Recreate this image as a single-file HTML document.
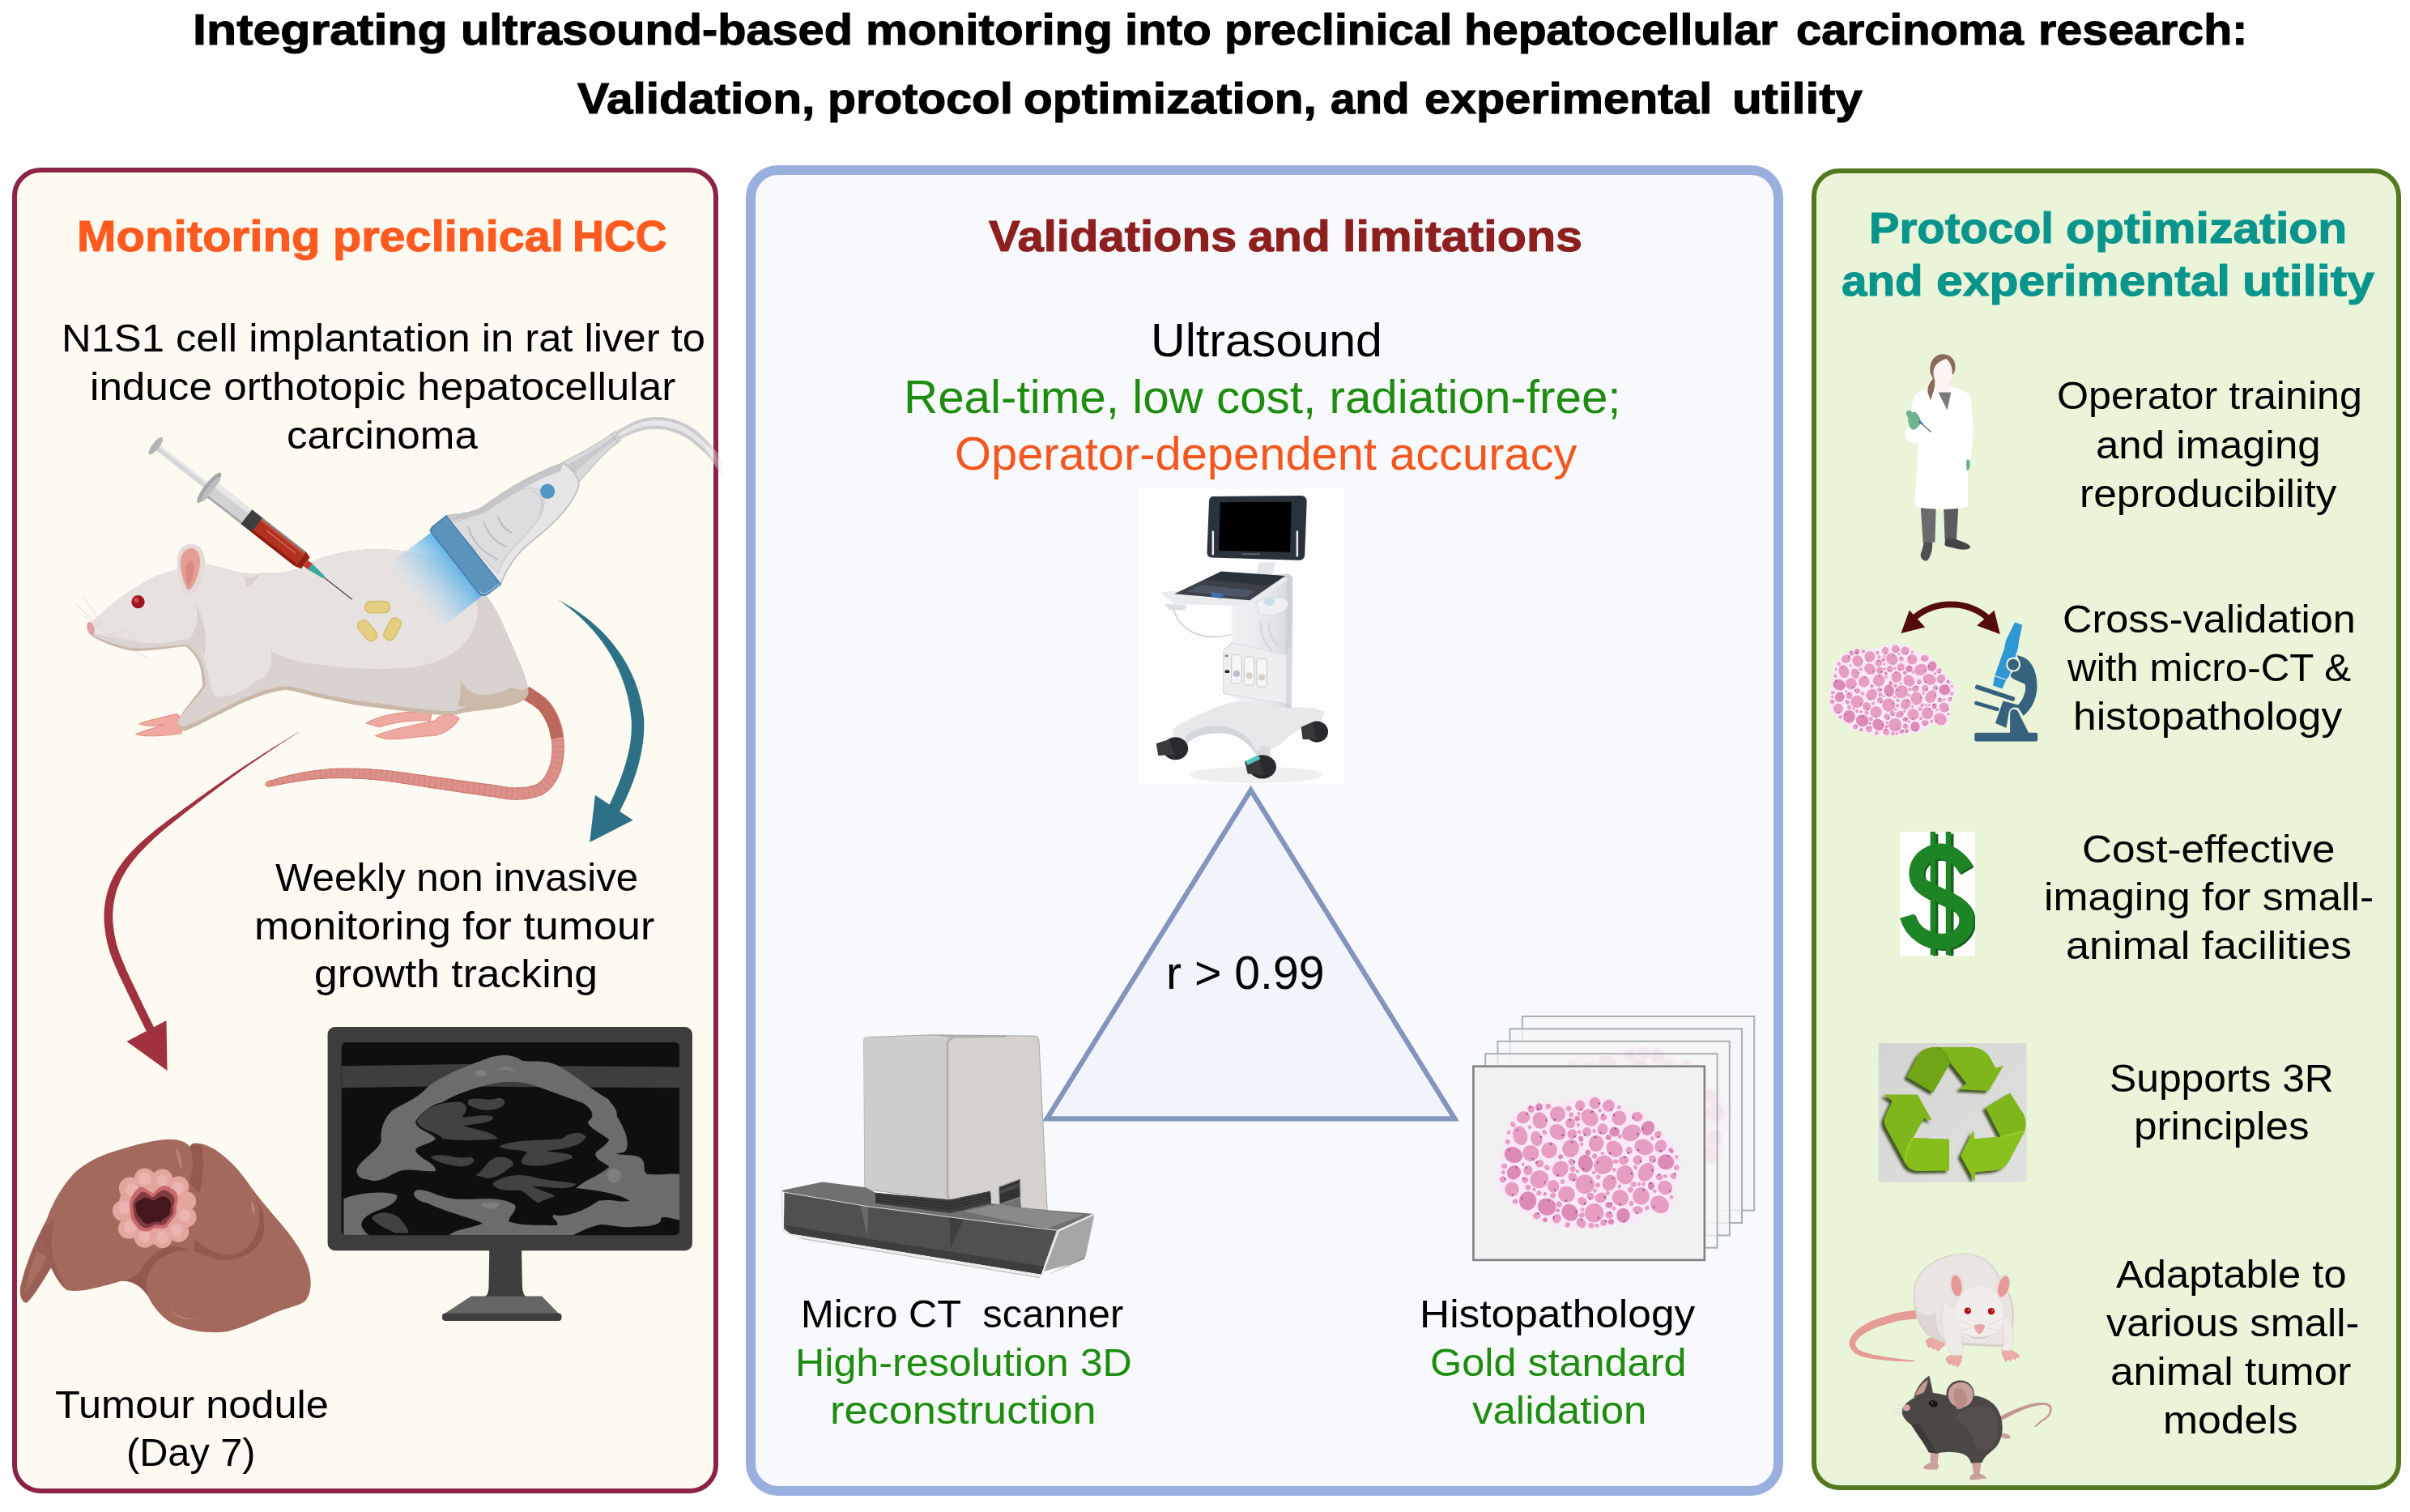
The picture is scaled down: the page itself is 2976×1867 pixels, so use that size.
<!DOCTYPE html>
<html><head><meta charset="utf-8"><title>Graphical abstract</title>
<style>
html,body{margin:0;padding:0;background:#fff}
body{width:2976px;height:1867px;position:relative;overflow:hidden;font-family:"Liberation Sans",sans-serif}
.panel{position:absolute;box-sizing:border-box}
.p1{left:14.5px;top:207px;width:872px;height:1636.5px;border:6px solid #8A2344;border-radius:35px;background:#FDFAF2}
.p2{left:921px;top:204.3px;width:1281.2px;height:1642.7px;border:12.5px solid #99B0DE;border-radius:40px;background:#F8F9FD}
.p3{left:2236.5px;top:207.5px;width:728.5px;height:1632px;border:6px solid #54781E;border-radius:34px;background:#EAF4D9}
.t{position:absolute;white-space:pre;line-height:1;transform-origin:0 0}
.b{font-weight:bold;-webkit-text-stroke:1.1px currentColor}
svg.art{position:absolute;left:0;top:0}
</style></head><body>
<div class="panel p1"></div><div class="panel p2"></div><div class="panel p3"></div>
<svg class="art" width="2976" height="1867" viewBox="0 0 2976 1867">
<!-- 10_triangle.svg -->
<g id="triangle">
<rect x="1405.5" y="603.5" width="254.7" height="365.2" fill="#FDFDFE"/>
<path d="M1544.6 975.6 L1796.4 1381.4 L1292.8 1381.4 Z" fill="#F1F4FA" stroke="#8495BD" stroke-width="6.2" stroke-linejoin="miter"/>
</g>
<!-- 20_usmachine.svg -->
<g id="usmachine" transform="translate(1390 595) scale(0.2513)">
<defs>
<linearGradient id="usg1" x1="0" y1="0" x2="1" y2="0"><stop offset="0" stop-color="#F1F2F4"/><stop offset="0.7" stop-color="#E3E5E8"/><stop offset="1" stop-color="#D2D5D9"/></linearGradient>
<filter id="usblur" x="-5%" y="-5%" width="110%" height="110%"><feGaussianBlur stdDeviation="2.2"/></filter>
</defs>
<g filter="url(#usblur)">
<!-- shadows -->
<ellipse cx="640" cy="1440" rx="330" ry="40" fill="#EFEFF1"/>
<!-- neck to monitor -->
<path d="M655 395 L735 395 L720 470 L640 470 Z" fill="#E4E6E9"/>
<!-- column -->
<path d="M520 600 L560 470 L800 450 L820 470 L815 1110 L770 1120 L520 1060 Z" fill="url(#usg1)"/>
<path d="M790 455 L820 470 L815 1110 L785 1115 Z" fill="#CDD0D5"/>
<!-- cable -->
<path d="M235 625 C260 720 360 790 520 750" fill="none" stroke="#D9DBDE" stroke-width="9"/>
<path d="M665 690 C660 760 690 800 720 830 M705 690 C700 750 730 800 775 815" fill="none" stroke="#D5D8DC" stroke-width="10"/>
<!-- gel holder -->
<path d="M640 590 C700 560 780 565 800 590 C800 640 740 665 660 650 Z" fill="#EEF0F2" stroke="#D8DBDF" stroke-width="4"/>
<ellipse cx="705" cy="590" rx="28" ry="20" fill="#C9DDEA"/>
<!-- tray -->
<path d="M170 545 L240 535 L560 580 L760 470 L800 480 L600 610 L240 600 Z" fill="#E9EBEE"/>
<path d="M190 600 L300 605 L290 630 L215 630 Z" fill="#DDE0E3"/>
<!-- keyboard -->
<path d="M240 550 L470 440 L785 462 L610 582 Z" fill="#3A4049"/>
<path d="M390 480 L470 442 L780 463 L700 510 Z" fill="#2C313A"/>
<path d="M300 540 L370 505 L640 535 L590 568 Z" fill="#4B5563"/>
<rect x="420" y="545" width="60" height="25" rx="6" fill="#3F6EA8" transform="rotate(8 450 557)"/>
<!-- probe panel -->
<path d="M480 830 L520 790 L790 850 L790 1090 L480 1040 Z" fill="#ECEEF0" stroke="#D5D8DC" stroke-width="4"/>
<path d="M790 850 L815 800 L815 1100 L790 1090 Z" fill="#D6D9DD"/>
<g fill="#F6F6F7" stroke="#C5C8CD" stroke-width="4">
<rect x="520" y="850" width="50" height="140" rx="16"/><rect x="582" y="860" width="50" height="140" rx="16"/><rect x="644" y="868" width="50" height="140" rx="16"/>
</g>
<circle cx="545" cy="942" r="16" fill="#B9BDC6"/><circle cx="607" cy="952" r="16" fill="#D8CFC0"/><circle cx="669" cy="960" r="16" fill="#D8CFC0"/>
<rect x="488" y="925" width="22" height="14" rx="4" fill="#222"/><rect x="488" y="850" width="16" height="10" fill="#888"/>
<!-- base -->
<path d="M230 1215 C330 1150 470 1090 560 1075 L800 1110 C880 1105 940 1110 975 1130 L960 1190 C880 1190 820 1230 760 1290 L700 1320 L640 1320 C620 1260 560 1210 470 1200 C390 1195 320 1215 290 1260 L240 1260 Z" fill="#E6E8EA"/>
<path d="M290 1260 C320 1215 390 1195 470 1200 C560 1210 620 1260 640 1320 L700 1320 L700 1340 L640 1340 C610 1290 560 1240 470 1235 C400 1232 340 1250 300 1285 Z" fill="#D3D6DA"/>
<rect x="660" y="1300" width="50" height="60" fill="#DADCE0"/>
<!-- wheels -->
<ellipse cx="245" cy="1310" rx="62" ry="56" fill="#2B2B2D"/><path d="M150 1285 L215 1265 L240 1340 L160 1345 Z" fill="#3A3A3C"/>
<ellipse cx="672" cy="1400" rx="68" ry="58" fill="#2B2B2D"/><path d="M585 1375 L650 1345 L680 1440 L600 1435 Z" fill="#38383A"/><path d="M590 1372 L650 1342 L662 1362 L598 1392 Z" fill="#57C7BF"/>
<ellipse cx="940" cy="1228" rx="55" ry="52" fill="#2B2B2D"/><path d="M862 1205 L920 1180 L935 1265 L870 1265 Z" fill="#38383A"/>
<!-- monitor -->
<path d="M430 72 L862 68 Q892 70 890 100 L880 360 Q878 385 850 385 L425 372 Q398 370 400 345 L410 95 Q412 72 430 72 Z" fill="#2C313B"/>
<path d="M465 100 L815 98 L808 345 L458 338 Z" fill="#020203"/>
<rect x="424" y="240" width="10" height="120" rx="5" fill="#E8E8EA"/><rect x="838" y="240" width="10" height="128" rx="5" fill="#E8E8EA"/>
<rect x="570" y="352" width="90" height="6" fill="#6A6F78"/>
</g>
</g>
<!-- 30_monitor.svg -->
<g id="monitor">
<path d="M604.3 1540 L644 1540 L645 1590 Q646 1600 650 1601 L598 1601 Q603 1600 603.5 1590 Z" fill="#3E3E3E"/>
<path d="M581.8 1600.6 L669.1 1600.6 L690 1622 L549 1622 Z" fill="#666666"/>
<rect x="546" y="1621.5" width="147.5" height="9.5" rx="4" fill="#3E3E3E"/>
<rect x="404.6" y="1268" width="450.3" height="276.2" rx="9" fill="#3D3D3D"/>
<clipPath id="scr"><rect x="421.7" y="1287" width="417.3" height="238.2" rx="6"/></clipPath>
<rect x="421.7" y="1287" width="417.3" height="238.2" rx="6" fill="#0F0F0F"/>
<g clip-path="url(#scr)"><g transform="translate(390 1250) scale(0.26458)">
<path d="M120 250 L700 242 L1100 250 L1700 255 L1700 352 L1200 350 L600 345 L120 352 Z" fill="#3E3E3E"/>
<path d="M190 740 C200 690 290 650 305 600 C300 540 320 490 360 455 C420 420 480 400 520 350 C580 300 700 250 800 215 C870 190 930 200 960 225 C1020 235 1080 215 1150 260 C1230 310 1300 370 1365 405 C1380 430 1410 450 1405 485 C1440 540 1465 600 1450 640 C1440 660 1420 655 1400 660 C1450 670 1510 660 1525 690 C1540 710 1525 740 1545 755 C1600 760 1650 750 1697 755 L1697 970 C1670 965 1630 950 1610 960 C1620 990 1560 1000 1500 1000 C1430 1010 1380 990 1330 990 C1280 1000 1240 1020 1200 1040 L620 1040 C660 1010 720 1010 780 985 C700 950 600 930 520 890 C470 880 440 850 470 830 C520 820 560 860 640 870 C740 880 860 850 930 900 C940 930 900 950 900 975 C960 1000 1060 990 1125 995 C1140 975 1090 960 1110 945 C1180 960 1260 920 1320 880 C1380 870 1430 890 1465 880 C1400 840 1300 830 1215 820 C1260 780 1330 760 1370 720 C1340 700 1290 680 1310 650 C1340 630 1360 610 1370 595 C1330 560 1270 540 1270 510 C1300 490 1300 460 1250 425 C1150 390 1050 350 980 330 C900 315 820 330 740 355 C680 375 620 400 590 420 C540 430 490 470 465 510 C470 550 540 560 560 590 C530 620 470 620 465 645 C490 690 560 700 560 740 C500 750 430 720 380 745 C330 770 290 800 240 780 C210 780 190 760 190 740 Z" fill="#6B6C6E"/>
<path d="M130 870 C200 840 340 830 380 855 C380 890 330 910 290 925 C230 945 200 980 220 1010 C230 1030 250 1040 250 1040 L130 1040 Z" fill="#6B6C6E"/>
<g fill="#424242">
<path d="M470 510 C500 450 580 410 680 420 C720 440 700 470 680 490 C720 490 800 470 830 490 C820 520 720 520 690 530 C760 550 830 560 850 590 C780 600 640 600 590 590 C580 560 500 560 470 510 Z"/>
<path d="M710 410 C760 390 800 420 850 400 C890 400 890 430 860 445 C800 470 740 450 710 430 Z"/>
<path d="M855 625 C930 590 1080 600 1150 590 C1180 560 1240 550 1260 580 C1250 620 1160 640 1075 645 C1120 660 1200 650 1200 680 C1140 700 1040 730 970 710 C940 690 990 660 985 650 C940 640 880 645 855 625 Z"/>
<path d="M535 675 C600 650 650 690 720 675 C760 690 730 715 680 720 C620 715 560 700 535 675 Z"/>
<path d="M745 760 C790 740 790 690 850 675 C900 670 930 700 920 715 C880 740 860 770 800 775 Z"/>
<path d="M825 800 C870 760 950 750 1020 770 C1100 790 1180 790 1215 800 C1200 830 1100 820 1010 810 C1060 840 1120 850 1115 860 C1080 870 1050 880 1040 890 C1000 870 980 840 950 830 C900 835 840 830 825 800 Z"/>
<path d="M260 960 C290 920 370 930 400 970 C420 1000 440 1020 430 1030 L370 1030 C330 1010 280 990 260 960 Z"/>
</g>
<g fill="#7D7E80"><ellipse cx="770" cy="283" rx="28" ry="16"/><path d="M845 268 C880 245 920 255 935 280 C900 265 870 268 845 268 Z"/><ellipse cx="1392" cy="762" rx="32" ry="34"/><path d="M770 895 C800 885 840 885 860 895 C840 925 790 925 770 895 Z"/></g>
</g>
</g>
</g>
<!-- 40_slides.svg -->
<g id="slides">
<g fill="#F6F6F7" fill-opacity="0.75" stroke="#A9AFB3" stroke-width="2">
<rect x="1879.8" y="1255" width="286.4" height="239.6"/>
<rect x="1864.6" y="1270.4" width="286.4" height="239.6"/>
<rect x="1849.4" y="1285.8" width="286.4" height="239.6"/>
<rect x="1834.2" y="1301.1" width="286.4" height="239.6"/>
</g>
<rect x="1819.4" y="1316.7" width="285.4" height="239.2" fill="#F1F1F1" stroke="#7F8386" stroke-width="2.6"/>
</g>
<!-- 41_tissue.svg -->
<clipPath id="backclip"><path d="M2106 1255 H2170 V1500 H2106 Z M1835 1255 H2170 V1315 H1835 Z"/></clipPath><g clip-path="url(#backclip)"><g opacity="0.16" transform="translate(1911.4 1291) scale(0.2249)"><path d="M0 480 C-3 433 14 337 25 280 C36 223 47 175 65 140 C83 105 108 87 135 70 C162 53 192 44 225 40 C258 36 302 48 335 45 C368 42 395 28 425 20 C455 12 482 0 515 0 C548 0 595 8 625 20 C655 32 668 58 695 70 C722 82 755 72 785 90 C815 108 848 152 875 180 C902 208 924 232 945 260 C966 288 992 322 1000 350 C1008 378 996 405 990 430 C984 455 970 472 965 500 C960 528 967 573 960 600 C953 627 948 653 925 660 C902 667 858 633 825 640 C792 647 767 686 725 700 C683 714 625 719 575 725 C525 731 472 738 425 735 C378 732 333 719 295 710 C257 701 227 695 195 680 C163 665 130 640 105 620 C80 600 62 583 45 560 C28 537 3 527 0 480 Z" fill="#F3D9EA"/><circle cx="324" cy="103" r="50" fill="#E69DC2"/><circle cx="536" cy="264" r="50" fill="#E69DC2"/><circle cx="223" cy="461" r="50" fill="#E69DC2"/><circle cx="118" cy="221" r="50" fill="#E69DC2"/><circle cx="525" cy="646" r="50" fill="#E69DC2"/><circle cx="729" cy="206" r="50" fill="#E69DC2"/><circle cx="668" cy="563" r="50" fill="#E69DC2"/><circle cx="695" cy="436" r="50" fill="#E69DC2"/><circle cx="474" cy="488" r="50" fill="#E69DC2"/><circle cx="391" cy="644" r="50" fill="#E69DC2"/><circle cx="81" cy="327" r="50" fill="#E69DC2"/><circle cx="278" cy="301" r="50" fill="#E69DC2"/><circle cx="798" cy="284" r="50" fill="#E69DC2"/><circle cx="265" cy="612" r="50" fill="#E69DC2"/><circle cx="227" cy="138" r="50" fill="#E69DC2"/><circle cx="782" cy="553" r="50" fill="#E69DC2"/><circle cx="396" cy="291" r="50" fill="#E69DC2"/><circle cx="918" cy="366" r="50" fill="#E69DC2"/><circle cx="339" cy="405" r="50" fill="#E69DC2"/><circle cx="500" cy="123" r="50" fill="#E69DC2"/><circle cx="636" cy="294" r="50" fill="#E69DC2"/><circle cx="884" cy="599" r="50" fill="#E69DC2"/><circle cx="160" cy="579" r="50" fill="#E69DC2"/><circle cx="810" cy="421" r="50" fill="#E69DC2"/><circle cx="576" cy="382" r="50" fill="#E69DC2"/><circle cx="373" cy="543" r="50" fill="#E69DC2"/><circle cx="84" cy="424" r="44" fill="#E69DC2"/><circle cx="914" cy="507" r="44" fill="#E69DC2"/><circle cx="176" cy="318" r="44" fill="#E69DC2"/><circle cx="661" cy="125" r="44" fill="#E69DC2"/><circle cx="477" cy="374" r="44" fill="#E69DC2"/><circle cx="73" cy="516" r="44" fill="#E69DC2"/><circle cx="684" cy="659" r="44" fill="#E69DC2"/><circle cx="325" cy="202" r="44" fill="#E69DC2"/><circle cx="609" cy="480" r="44" fill="#E69DC2"/><circle cx="890" cy="279" r="38" fill="#E69DC2"/><circle cx="819" cy="180" r="38" fill="#E69DC2"/><circle cx="136" cy="121" r="38" fill="#E69DC2"/><circle cx="604" cy="57" r="38" fill="#E69DC2"/><circle cx="208" cy="238" r="38" fill="#E69DC2"/><circle cx="571" cy="186" r="32" fill="#E69DC2"/><circle cx="529" cy="43" r="32" fill="#E69DC2"/><circle cx="300" cy="499" r="32" fill="#E69DC2"/><circle cx="561" cy="562" r="32" fill="#E69DC2"/><circle cx="447" cy="56" r="32" fill="#E69DC2"/><circle cx="761" cy="117" r="32" fill="#E69DC2"/></g></g>
<g transform="translate(1850.6 1352.5) scale(0.2249)"><path d="M0 480 C-3 433 14 337 25 280 C36 223 47 175 65 140 C83 105 108 87 135 70 C162 53 192 44 225 40 C258 36 302 48 335 45 C368 42 395 28 425 20 C455 12 482 0 515 0 C548 0 595 8 625 20 C655 32 668 58 695 70 C722 82 755 72 785 90 C815 108 848 152 875 180 C902 208 924 232 945 260 C966 288 992 322 1000 350 C1008 378 996 405 990 430 C984 455 970 472 965 500 C960 528 967 573 960 600 C953 627 948 653 925 660 C902 667 858 633 825 640 C792 647 767 686 725 700 C683 714 625 719 575 725 C525 731 472 738 425 735 C378 732 333 719 295 710 C257 701 227 695 195 680 C163 665 130 640 105 620 C80 600 62 583 45 560 C28 537 3 527 0 480 Z" fill="#FAE7F8"/>
<g fill="#E69DC2"><ellipse cx="324" cy="103" rx="43" ry="42" transform="rotate(147 324 103)"/><ellipse cx="536" cy="264" rx="45" ry="41" transform="rotate(101 536 264)"/><ellipse cx="223" cy="461" rx="51" ry="49" transform="rotate(151 223 461)"/><ellipse cx="118" cy="221" rx="53" ry="40" transform="rotate(74 118 221)"/><ellipse cx="525" cy="646" rx="52" ry="52" transform="rotate(172 525 646)"/><ellipse cx="729" cy="206" rx="53" ry="44" transform="rotate(154 729 206)"/><ellipse cx="668" cy="563" rx="46" ry="44" transform="rotate(31 668 563)"/><ellipse cx="695" cy="436" rx="52" ry="47" transform="rotate(85 695 436)"/><ellipse cx="474" cy="488" rx="53" ry="52" transform="rotate(55 474 488)"/><ellipse cx="278" cy="301" rx="45" ry="43" transform="rotate(118 278 301)"/><ellipse cx="798" cy="284" rx="53" ry="43" transform="rotate(19 798 284)"/><ellipse cx="227" cy="138" rx="46" ry="41" transform="rotate(73 227 138)"/><ellipse cx="782" cy="553" rx="48" ry="46" transform="rotate(70 782 553)"/><ellipse cx="396" cy="291" rx="50" ry="46" transform="rotate(114 396 291)"/><ellipse cx="339" cy="405" rx="47" ry="42" transform="rotate(135 339 405)"/><ellipse cx="500" cy="123" rx="51" ry="43" transform="rotate(45 500 123)"/><ellipse cx="636" cy="294" rx="49" ry="41" transform="rotate(44 636 294)"/><ellipse cx="884" cy="599" rx="53" ry="46" transform="rotate(34 884 599)"/><ellipse cx="810" cy="421" rx="54" ry="41" transform="rotate(122 810 421)"/><ellipse cx="576" cy="382" rx="54" ry="50" transform="rotate(140 576 382)"/><ellipse cx="373" cy="543" rx="45" ry="46" transform="rotate(100 373 543)"/><ellipse cx="914" cy="507" rx="41" ry="38" transform="rotate(38 914 507)"/><ellipse cx="176" cy="318" rx="45" ry="45" transform="rotate(89 176 318)"/><ellipse cx="661" cy="125" rx="40" ry="40" transform="rotate(131 661 125)"/><ellipse cx="73" cy="516" rx="40" ry="39" transform="rotate(72 73 516)"/><ellipse cx="325" cy="202" rx="48" ry="41" transform="rotate(40 325 202)"/><ellipse cx="609" cy="480" rx="45" ry="38" transform="rotate(118 609 480)"/><ellipse cx="890" cy="279" rx="36" ry="32" transform="rotate(122 890 279)"/><ellipse cx="136" cy="121" rx="37" ry="33" transform="rotate(159 136 121)"/><ellipse cx="604" cy="57" rx="33" ry="34" transform="rotate(50 604 57)"/><ellipse cx="208" cy="238" rx="42" ry="31" transform="rotate(72 208 238)"/><ellipse cx="571" cy="186" rx="31" ry="29" transform="rotate(102 571 186)"/><ellipse cx="529" cy="43" rx="32" ry="31" transform="rotate(82 529 43)"/><ellipse cx="300" cy="499" rx="35" ry="32" transform="rotate(81 300 499)"/><ellipse cx="561" cy="562" rx="27" ry="33" transform="rotate(69 561 562)"/><ellipse cx="447" cy="56" rx="29" ry="27" transform="rotate(102 447 56)"/><ellipse cx="761" cy="117" rx="31" ry="26" transform="rotate(1 761 117)"/><ellipse cx="161" cy="412" rx="24" ry="27" transform="rotate(17 161 412)"/><ellipse cx="319" cy="677" rx="24" ry="26" transform="rotate(23 319 677)"/><ellipse cx="394" cy="153" rx="28" ry="27" transform="rotate(110 394 153)"/><ellipse cx="453" cy="701" rx="29" ry="24" transform="rotate(48 453 701)"/><ellipse cx="225" cy="375" rx="23" ry="21" transform="rotate(163 225 375)"/><ellipse cx="404" cy="212" rx="27" ry="26" transform="rotate(136 404 212)"/><ellipse cx="406" cy="449" rx="25" ry="23" transform="rotate(48 406 449)"/><ellipse cx="687" cy="357" rx="28" ry="24" transform="rotate(167 687 357)"/><ellipse cx="460" cy="582" rx="27" ry="22" transform="rotate(37 460 582)"/><ellipse cx="484" cy="201" rx="25" ry="25" transform="rotate(50 484 201)"/><ellipse cx="764" cy="629" rx="28" ry="21" transform="rotate(4 764 629)"/><ellipse cx="763" cy="355" rx="26" ry="25" transform="rotate(106 763 355)"/><ellipse cx="577" cy="699" rx="18" ry="19" transform="rotate(44 577 699)"/><ellipse cx="401" cy="366" rx="19" ry="17" transform="rotate(47 401 366)"/><ellipse cx="607" cy="657" rx="22" ry="19" transform="rotate(25 607 657)"/><ellipse cx="178" cy="76" rx="19" ry="20" transform="rotate(140 178 76)"/><ellipse cx="146" cy="466" rx="17" ry="16" transform="rotate(135 146 466)"/><ellipse cx="960" cy="443" rx="17" ry="16" transform="rotate(39 960 443)"/><ellipse cx="505" cy="554" rx="21" ry="19" transform="rotate(23 505 554)"/><ellipse cx="576" cy="121" rx="17" ry="18" transform="rotate(46 576 121)"/><ellipse cx="875" cy="215" rx="18" ry="21" transform="rotate(47 875 215)"/><ellipse cx="23" cy="462" rx="17" ry="18" transform="rotate(137 23 462)"/><ellipse cx="845" cy="350" rx="20" ry="21" transform="rotate(10 845 350)"/><ellipse cx="717" cy="302" rx="18" ry="20" transform="rotate(169 717 302)"/><ellipse cx="209" cy="661" rx="21" ry="18" transform="rotate(171 209 661)"/><ellipse cx="882" cy="449" rx="20" ry="17" transform="rotate(13 882 449)"/><ellipse cx="272" cy="61" rx="15" ry="15" transform="rotate(160 272 61)"/><ellipse cx="91" cy="583" rx="13" ry="15" transform="rotate(74 91 583)"/><ellipse cx="31" cy="389" rx="16" ry="14" transform="rotate(174 31 389)"/><ellipse cx="378" cy="711" rx="15" ry="14" transform="rotate(106 378 711)"/><ellipse cx="385" cy="73" rx="15" ry="15" transform="rotate(140 385 73)"/><ellipse cx="508" cy="714" rx="15" ry="15" transform="rotate(2 508 714)"/><ellipse cx="351" cy="474" rx="13" ry="12" transform="rotate(114 351 474)"/><ellipse cx="815" cy="618" rx="13" ry="12" transform="rotate(83 815 618)"/><ellipse cx="729" cy="594" rx="13" ry="14" transform="rotate(22 729 594)"/><ellipse cx="50" cy="256" rx="14" ry="13" transform="rotate(46 50 256)"/><ellipse cx="741" cy="489" rx="16" ry="14" transform="rotate(167 741 489)"/><ellipse cx="252" cy="203" rx="14" ry="12" transform="rotate(48 252 203)"/><ellipse cx="221" cy="537" rx="13" ry="14" transform="rotate(37 221 537)"/><ellipse cx="161" cy="505" rx="16" ry="15" transform="rotate(33 161 505)"/><ellipse cx="977" cy="397" rx="15" ry="14" transform="rotate(87 977 397)"/><ellipse cx="544" cy="493" rx="14" ry="13" transform="rotate(141 544 493)"/><ellipse cx="457" cy="658" rx="16" ry="14" transform="rotate(154 457 658)"/><ellipse cx="399" cy="106" rx="14" ry="13" transform="rotate(123 399 106)"/><ellipse cx="547" cy="449" rx="13" ry="13" transform="rotate(17 547 449)"/><ellipse cx="78" cy="160" rx="16" ry="13" transform="rotate(59 78 160)"/><ellipse cx="332" cy="598" rx="16" ry="16" transform="rotate(151 332 598)"/><ellipse cx="298" cy="550" rx="16" ry="15" transform="rotate(135 298 550)"/><ellipse cx="407" cy="405" rx="16" ry="16" transform="rotate(156 407 405)"/><ellipse cx="643" cy="363" rx="15" ry="12" transform="rotate(178 643 363)"/><ellipse cx="527" cy="334" rx="14" ry="15" transform="rotate(47 527 334)"/><ellipse cx="266" cy="397" rx="16" ry="13" transform="rotate(33 266 397)"/><ellipse cx="724" cy="518" rx="16" ry="15" transform="rotate(131 724 518)"/><ellipse cx="26" cy="423" rx="11" ry="11" transform="rotate(134 26 423)"/><ellipse cx="171" cy="175" rx="10" ry="10" transform="rotate(62 171 175)"/><ellipse cx="437" cy="163" rx="11" ry="9" transform="rotate(100 437 163)"/><ellipse cx="529" cy="524" rx="11" ry="11" transform="rotate(92 529 524)"/><ellipse cx="56" cy="204" rx="11" ry="10" transform="rotate(113 56 204)"/><ellipse cx="663" cy="500" rx="12" ry="9" transform="rotate(113 663 500)"/><ellipse cx="915" cy="444" rx="12" ry="9" transform="rotate(170 915 444)"/><ellipse cx="433" cy="417" rx="10" ry="9" transform="rotate(9 433 417)"/><ellipse cx="455" cy="268" rx="10" ry="10" transform="rotate(137 455 268)"/><ellipse cx="134" cy="379" rx="9" ry="10" transform="rotate(24 134 379)"/><ellipse cx="599" cy="537" rx="12" ry="10" transform="rotate(104 599 537)"/><ellipse cx="195" cy="517" rx="10" ry="10" transform="rotate(24 195 517)"/><ellipse cx="977" cy="338" rx="10" ry="10" transform="rotate(3 977 338)"/><ellipse cx="948" cy="559" rx="10" ry="11" transform="rotate(79 948 559)"/><ellipse cx="523" cy="424" rx="12" ry="9" transform="rotate(166 523 424)"/><ellipse cx="570" cy="318" rx="9" ry="10" transform="rotate(105 570 318)"/><ellipse cx="796" cy="487" rx="11" ry="10" transform="rotate(95 796 487)"/><ellipse cx="634" cy="621" rx="11" ry="11" transform="rotate(8 634 621)"/><ellipse cx="751" cy="396" rx="12" ry="10" transform="rotate(53 751 396)"/><ellipse cx="556" cy="83" rx="10" ry="10" transform="rotate(91 556 83)"/><ellipse cx="661" cy="66" rx="11" ry="10" transform="rotate(150 661 66)"/><ellipse cx="771" cy="488" rx="10" ry="10" transform="rotate(62 771 488)"/><ellipse cx="666" cy="227" rx="10" ry="12" transform="rotate(90 666 227)"/><ellipse cx="442" cy="201" rx="10" ry="11" transform="rotate(160 442 201)"/><ellipse cx="539" cy="715" rx="11" ry="11" transform="rotate(16 539 715)"/><ellipse cx="844" cy="237" rx="11" ry="11" transform="rotate(91 844 237)"/><ellipse cx="440" cy="101" rx="11" ry="9" transform="rotate(66 440 101)"/><ellipse cx="634" cy="409" rx="12" ry="10" transform="rotate(20 634 409)"/><ellipse cx="524" cy="196" rx="11" ry="10" transform="rotate(27 524 196)"/><ellipse cx="460" cy="627" rx="11" ry="11" transform="rotate(149 460 627)"/><ellipse cx="857" cy="526" rx="9" ry="10" transform="rotate(119 857 526)"/></g>
<g fill="#DB8BB6"><ellipse cx="391" cy="644" rx="43" ry="49" transform="rotate(140 391 644)"/><ellipse cx="81" cy="327" rx="43" ry="51" transform="rotate(113 81 327)"/><ellipse cx="265" cy="612" rx="51" ry="47" transform="rotate(21 265 612)"/><ellipse cx="918" cy="366" rx="45" ry="42" transform="rotate(8 918 366)"/><ellipse cx="160" cy="579" rx="51" ry="47" transform="rotate(95 160 579)"/><ellipse cx="84" cy="424" rx="40" ry="37" transform="rotate(127 84 424)"/><ellipse cx="477" cy="374" rx="48" ry="40" transform="rotate(78 477 374)"/><ellipse cx="684" cy="659" rx="40" ry="37" transform="rotate(89 684 659)"/><ellipse cx="819" cy="180" rx="41" ry="35" transform="rotate(114 819 180)"/><ellipse cx="636" cy="200" rx="28" ry="27" transform="rotate(2 636 200)"/><ellipse cx="837" cy="497" rx="22" ry="18" transform="rotate(86 837 497)"/><ellipse cx="606" cy="602" rx="17" ry="20" transform="rotate(108 606 602)"/><ellipse cx="222" cy="64" rx="20" ry="21" transform="rotate(18 222 64)"/><ellipse cx="255" cy="684" rx="13" ry="12" transform="rotate(134 255 684)"/><ellipse cx="340" cy="337" rx="13" ry="13" transform="rotate(121 340 337)"/><ellipse cx="490" cy="314" rx="16" ry="15" transform="rotate(119 490 314)"/><ellipse cx="947" cy="303" rx="16" ry="12" transform="rotate(52 947 303)"/><ellipse cx="431" cy="128" rx="15" ry="14" transform="rotate(166 431 128)"/><ellipse cx="452" cy="238" rx="16" ry="13" transform="rotate(77 452 238)"/><ellipse cx="617" cy="694" rx="16" ry="15" transform="rotate(162 617 694)"/><ellipse cx="603" cy="231" rx="16" ry="14" transform="rotate(21 603 231)"/><ellipse cx="254" cy="542" rx="11" ry="9" transform="rotate(123 254 542)"/><ellipse cx="325" cy="632" rx="10" ry="10" transform="rotate(89 325 632)"/></g>
<g fill="#8A52A0"><ellipse cx="308" cy="134" rx="7" ry="4" transform="rotate(134 308 134)"/><ellipse cx="531" cy="230" rx="7" ry="4" transform="rotate(13 531 230)"/><ellipse cx="253" cy="479" rx="7" ry="4" transform="rotate(96 253 479)"/><ellipse cx="103" cy="190" rx="7" ry="4" transform="rotate(161 103 190)"/><ellipse cx="548" cy="673" rx="7" ry="4" transform="rotate(113 548 673)"/><ellipse cx="764" cy="213" rx="7" ry="4" transform="rotate(64 764 213)"/><ellipse cx="666" cy="598" rx="7" ry="4" transform="rotate(73 666 598)"/><ellipse cx="730" cy="429" rx="7" ry="4" transform="rotate(70 730 429)"/><ellipse cx="507" cy="477" rx="7" ry="4" transform="rotate(121 507 477)"/><ellipse cx="426" cy="640" rx="7" ry="4" transform="rotate(106 426 640)"/><ellipse cx="57" cy="301" rx="7" ry="4" transform="rotate(70 57 301)"/><ellipse cx="287" cy="267" rx="7" ry="4" transform="rotate(68 287 267)"/><ellipse cx="767" cy="300" rx="7" ry="4" transform="rotate(19 767 300)"/><ellipse cx="275" cy="578" rx="7" ry="4" transform="rotate(106 275 578)"/><ellipse cx="262" cy="137" rx="7" ry="4" transform="rotate(70 262 137)"/><ellipse cx="796" cy="520" rx="7" ry="4" transform="rotate(41 796 520)"/><ellipse cx="402" cy="257" rx="7" ry="4" transform="rotate(32 402 257)"/><ellipse cx="932" cy="334" rx="7" ry="4" transform="rotate(141 932 334)"/><ellipse cx="325" cy="437" rx="7" ry="4" transform="rotate(55 325 437)"/><ellipse cx="513" cy="91" rx="7" ry="4" transform="rotate(161 513 91)"/><ellipse cx="612" cy="319" rx="7" ry="4" transform="rotate(172 612 319)"/><ellipse cx="852" cy="612" rx="7" ry="4" transform="rotate(106 852 612)"/><ellipse cx="128" cy="566" rx="7" ry="4" transform="rotate(40 128 566)"/><ellipse cx="844" cy="412" rx="7" ry="4" transform="rotate(97 844 412)"/><ellipse cx="544" cy="368" rx="7" ry="4" transform="rotate(92 544 368)"/><ellipse cx="370" cy="578" rx="7" ry="4" transform="rotate(158 370 578)"/><ellipse cx="97" cy="396" rx="7" ry="4" transform="rotate(58 97 396)"/><ellipse cx="940" cy="524" rx="7" ry="4" transform="rotate(132 940 524)"/><ellipse cx="186" cy="348" rx="7" ry="4" transform="rotate(27 186 348)"/><ellipse cx="635" cy="110" rx="7" ry="4" transform="rotate(65 635 110)"/><ellipse cx="466" cy="403" rx="7" ry="4" transform="rotate(66 466 403)"/><ellipse cx="77" cy="547" rx="7" ry="4" transform="rotate(135 77 547)"/><ellipse cx="690" cy="690" rx="7" ry="4" transform="rotate(117 690 690)"/><ellipse cx="352" cy="218" rx="7" ry="4" transform="rotate(145 352 218)"/><ellipse cx="627" cy="455" rx="7" ry="4" transform="rotate(175 627 455)"/><ellipse cx="890" cy="306" rx="7" ry="4" transform="rotate(20 890 306)"/><ellipse cx="792" cy="181" rx="7" ry="4" transform="rotate(70 792 181)"/><ellipse cx="156" cy="103" rx="7" ry="4" transform="rotate(120 156 103)"/><ellipse cx="617" cy="80" rx="7" ry="4" transform="rotate(95 617 80)"/><ellipse cx="233" cy="229" rx="7" ry="4" transform="rotate(22 233 229)"/><ellipse cx="559" cy="205" rx="7" ry="4" transform="rotate(172 559 205)"/><ellipse cx="552" cy="45" rx="7" ry="4" transform="rotate(8 552 45)"/><ellipse cx="308" cy="519" rx="7" ry="4" transform="rotate(84 308 519)"/><ellipse cx="583" cy="560" rx="7" ry="4" transform="rotate(62 583 560)"/><ellipse cx="452" cy="78" rx="7" ry="4" transform="rotate(124 452 78)"/><ellipse cx="739" cy="123" rx="7" ry="4" transform="rotate(3 739 123)"/><ellipse cx="152" cy="396" rx="7" ry="4" transform="rotate(41 152 396)"/><ellipse cx="303" cy="669" rx="7" ry="4" transform="rotate(78 303 669)"/><ellipse cx="392" cy="135" rx="7" ry="4" transform="rotate(24 392 135)"/><ellipse cx="454" cy="683" rx="7" ry="4" transform="rotate(95 454 683)"/><ellipse cx="208" cy="368" rx="7" ry="4" transform="rotate(168 208 368)"/><ellipse cx="417" cy="225" rx="7" ry="4" transform="rotate(41 417 225)"/><ellipse cx="642" cy="183" rx="7" ry="4" transform="rotate(63 642 183)"/><ellipse cx="414" cy="465" rx="7" ry="4" transform="rotate(75 414 465)"/><ellipse cx="693" cy="340" rx="7" ry="4" transform="rotate(10 693 340)"/><ellipse cx="473" cy="594" rx="7" ry="4" transform="rotate(141 473 594)"/><ellipse cx="473" cy="216" rx="7" ry="4" transform="rotate(97 473 216)"/><ellipse cx="759" cy="647" rx="7" ry="4" transform="rotate(24 759 647)"/><ellipse cx="780" cy="363" rx="7" ry="4" transform="rotate(34 780 363)"/><ellipse cx="588" cy="691" rx="7" ry="4" transform="rotate(4 588 691)"/><ellipse cx="415" cy="364" rx="7" ry="4" transform="rotate(71 415 364)"/><ellipse cx="611" cy="644" rx="7" ry="4" transform="rotate(88 611 644)"/><ellipse cx="173" cy="63" rx="7" ry="4" transform="rotate(109 173 63)"/><ellipse cx="136" cy="457" rx="7" ry="4" transform="rotate(1 136 457)"/><ellipse cx="834" cy="483" rx="7" ry="4" transform="rotate(157 834 483)"/><ellipse cx="968" cy="431" rx="7" ry="4" transform="rotate(120 968 431)"/><ellipse cx="501" cy="567" rx="7" ry="4" transform="rotate(62 501 567)"/><ellipse cx="617" cy="593" rx="7" ry="4" transform="rotate(5 617 593)"/><ellipse cx="571" cy="108" rx="7" ry="4" transform="rotate(122 571 108)"/><ellipse cx="877" cy="229" rx="7" ry="4" transform="rotate(16 877 229)"/><ellipse cx="36" cy="458" rx="7" ry="4" transform="rotate(42 36 458)"/><ellipse cx="856" cy="359" rx="7" ry="4" transform="rotate(116 856 359)"/><ellipse cx="712" cy="316" rx="7" ry="4" transform="rotate(173 712 316)"/><ellipse cx="215" cy="76" rx="7" ry="4" transform="rotate(75 215 76)"/><ellipse cx="215" cy="648" rx="7" ry="4" transform="rotate(21 215 648)"/><ellipse cx="881" cy="435" rx="7" ry="4" transform="rotate(156 881 435)"/></g></g>
<g transform="translate(2258.6 794.8) scale(0.1554)"><path d="M0 480 C-3 433 14 337 25 280 C36 223 47 175 65 140 C83 105 108 87 135 70 C162 53 192 44 225 40 C258 36 302 48 335 45 C368 42 395 28 425 20 C455 12 482 0 515 0 C548 0 595 8 625 20 C655 32 668 58 695 70 C722 82 755 72 785 90 C815 108 848 152 875 180 C902 208 924 232 945 260 C966 288 992 322 1000 350 C1008 378 996 405 990 430 C984 455 970 472 965 500 C960 528 967 573 960 600 C953 627 948 653 925 660 C902 667 858 633 825 640 C792 647 767 686 725 700 C683 714 625 719 575 725 C525 731 472 738 425 735 C378 732 333 719 295 710 C257 701 227 695 195 680 C163 665 130 640 105 620 C80 600 62 583 45 560 C28 537 3 527 0 480 Z" fill="#FAE7F8"/>
<g fill="#E69DC2"><ellipse cx="324" cy="103" rx="43" ry="42" transform="rotate(147 324 103)"/><ellipse cx="536" cy="264" rx="45" ry="41" transform="rotate(101 536 264)"/><ellipse cx="223" cy="461" rx="51" ry="49" transform="rotate(151 223 461)"/><ellipse cx="118" cy="221" rx="53" ry="40" transform="rotate(74 118 221)"/><ellipse cx="525" cy="646" rx="52" ry="52" transform="rotate(172 525 646)"/><ellipse cx="729" cy="206" rx="53" ry="44" transform="rotate(154 729 206)"/><ellipse cx="668" cy="563" rx="46" ry="44" transform="rotate(31 668 563)"/><ellipse cx="695" cy="436" rx="52" ry="47" transform="rotate(85 695 436)"/><ellipse cx="474" cy="488" rx="53" ry="52" transform="rotate(55 474 488)"/><ellipse cx="278" cy="301" rx="45" ry="43" transform="rotate(118 278 301)"/><ellipse cx="798" cy="284" rx="53" ry="43" transform="rotate(19 798 284)"/><ellipse cx="227" cy="138" rx="46" ry="41" transform="rotate(73 227 138)"/><ellipse cx="782" cy="553" rx="48" ry="46" transform="rotate(70 782 553)"/><ellipse cx="396" cy="291" rx="50" ry="46" transform="rotate(114 396 291)"/><ellipse cx="339" cy="405" rx="47" ry="42" transform="rotate(135 339 405)"/><ellipse cx="500" cy="123" rx="51" ry="43" transform="rotate(45 500 123)"/><ellipse cx="636" cy="294" rx="49" ry="41" transform="rotate(44 636 294)"/><ellipse cx="884" cy="599" rx="53" ry="46" transform="rotate(34 884 599)"/><ellipse cx="810" cy="421" rx="54" ry="41" transform="rotate(122 810 421)"/><ellipse cx="576" cy="382" rx="54" ry="50" transform="rotate(140 576 382)"/><ellipse cx="373" cy="543" rx="45" ry="46" transform="rotate(100 373 543)"/><ellipse cx="914" cy="507" rx="41" ry="38" transform="rotate(38 914 507)"/><ellipse cx="176" cy="318" rx="45" ry="45" transform="rotate(89 176 318)"/><ellipse cx="661" cy="125" rx="40" ry="40" transform="rotate(131 661 125)"/><ellipse cx="73" cy="516" rx="40" ry="39" transform="rotate(72 73 516)"/><ellipse cx="325" cy="202" rx="48" ry="41" transform="rotate(40 325 202)"/><ellipse cx="609" cy="480" rx="45" ry="38" transform="rotate(118 609 480)"/><ellipse cx="890" cy="279" rx="36" ry="32" transform="rotate(122 890 279)"/><ellipse cx="136" cy="121" rx="37" ry="33" transform="rotate(159 136 121)"/><ellipse cx="604" cy="57" rx="33" ry="34" transform="rotate(50 604 57)"/><ellipse cx="208" cy="238" rx="42" ry="31" transform="rotate(72 208 238)"/><ellipse cx="571" cy="186" rx="31" ry="29" transform="rotate(102 571 186)"/><ellipse cx="529" cy="43" rx="32" ry="31" transform="rotate(82 529 43)"/><ellipse cx="300" cy="499" rx="35" ry="32" transform="rotate(81 300 499)"/><ellipse cx="561" cy="562" rx="27" ry="33" transform="rotate(69 561 562)"/><ellipse cx="447" cy="56" rx="29" ry="27" transform="rotate(102 447 56)"/><ellipse cx="761" cy="117" rx="31" ry="26" transform="rotate(1 761 117)"/><ellipse cx="161" cy="412" rx="24" ry="27" transform="rotate(17 161 412)"/><ellipse cx="319" cy="677" rx="24" ry="26" transform="rotate(23 319 677)"/><ellipse cx="394" cy="153" rx="28" ry="27" transform="rotate(110 394 153)"/><ellipse cx="453" cy="701" rx="29" ry="24" transform="rotate(48 453 701)"/><ellipse cx="225" cy="375" rx="23" ry="21" transform="rotate(163 225 375)"/><ellipse cx="404" cy="212" rx="27" ry="26" transform="rotate(136 404 212)"/><ellipse cx="406" cy="449" rx="25" ry="23" transform="rotate(48 406 449)"/><ellipse cx="687" cy="357" rx="28" ry="24" transform="rotate(167 687 357)"/><ellipse cx="460" cy="582" rx="27" ry="22" transform="rotate(37 460 582)"/><ellipse cx="484" cy="201" rx="25" ry="25" transform="rotate(50 484 201)"/><ellipse cx="764" cy="629" rx="28" ry="21" transform="rotate(4 764 629)"/><ellipse cx="763" cy="355" rx="26" ry="25" transform="rotate(106 763 355)"/><ellipse cx="577" cy="699" rx="18" ry="19" transform="rotate(44 577 699)"/><ellipse cx="401" cy="366" rx="19" ry="17" transform="rotate(47 401 366)"/><ellipse cx="607" cy="657" rx="22" ry="19" transform="rotate(25 607 657)"/><ellipse cx="178" cy="76" rx="19" ry="20" transform="rotate(140 178 76)"/><ellipse cx="146" cy="466" rx="17" ry="16" transform="rotate(135 146 466)"/><ellipse cx="960" cy="443" rx="17" ry="16" transform="rotate(39 960 443)"/><ellipse cx="505" cy="554" rx="21" ry="19" transform="rotate(23 505 554)"/><ellipse cx="576" cy="121" rx="17" ry="18" transform="rotate(46 576 121)"/><ellipse cx="875" cy="215" rx="18" ry="21" transform="rotate(47 875 215)"/><ellipse cx="23" cy="462" rx="17" ry="18" transform="rotate(137 23 462)"/><ellipse cx="845" cy="350" rx="20" ry="21" transform="rotate(10 845 350)"/><ellipse cx="717" cy="302" rx="18" ry="20" transform="rotate(169 717 302)"/><ellipse cx="209" cy="661" rx="21" ry="18" transform="rotate(171 209 661)"/><ellipse cx="882" cy="449" rx="20" ry="17" transform="rotate(13 882 449)"/><ellipse cx="272" cy="61" rx="15" ry="15" transform="rotate(160 272 61)"/><ellipse cx="91" cy="583" rx="13" ry="15" transform="rotate(74 91 583)"/><ellipse cx="31" cy="389" rx="16" ry="14" transform="rotate(174 31 389)"/><ellipse cx="378" cy="711" rx="15" ry="14" transform="rotate(106 378 711)"/><ellipse cx="385" cy="73" rx="15" ry="15" transform="rotate(140 385 73)"/><ellipse cx="508" cy="714" rx="15" ry="15" transform="rotate(2 508 714)"/><ellipse cx="351" cy="474" rx="13" ry="12" transform="rotate(114 351 474)"/><ellipse cx="815" cy="618" rx="13" ry="12" transform="rotate(83 815 618)"/><ellipse cx="729" cy="594" rx="13" ry="14" transform="rotate(22 729 594)"/><ellipse cx="50" cy="256" rx="14" ry="13" transform="rotate(46 50 256)"/><ellipse cx="741" cy="489" rx="16" ry="14" transform="rotate(167 741 489)"/><ellipse cx="252" cy="203" rx="14" ry="12" transform="rotate(48 252 203)"/><ellipse cx="221" cy="537" rx="13" ry="14" transform="rotate(37 221 537)"/><ellipse cx="161" cy="505" rx="16" ry="15" transform="rotate(33 161 505)"/><ellipse cx="977" cy="397" rx="15" ry="14" transform="rotate(87 977 397)"/><ellipse cx="544" cy="493" rx="14" ry="13" transform="rotate(141 544 493)"/><ellipse cx="457" cy="658" rx="16" ry="14" transform="rotate(154 457 658)"/><ellipse cx="399" cy="106" rx="14" ry="13" transform="rotate(123 399 106)"/><ellipse cx="547" cy="449" rx="13" ry="13" transform="rotate(17 547 449)"/><ellipse cx="78" cy="160" rx="16" ry="13" transform="rotate(59 78 160)"/><ellipse cx="332" cy="598" rx="16" ry="16" transform="rotate(151 332 598)"/><ellipse cx="298" cy="550" rx="16" ry="15" transform="rotate(135 298 550)"/><ellipse cx="407" cy="405" rx="16" ry="16" transform="rotate(156 407 405)"/><ellipse cx="643" cy="363" rx="15" ry="12" transform="rotate(178 643 363)"/><ellipse cx="527" cy="334" rx="14" ry="15" transform="rotate(47 527 334)"/><ellipse cx="266" cy="397" rx="16" ry="13" transform="rotate(33 266 397)"/><ellipse cx="724" cy="518" rx="16" ry="15" transform="rotate(131 724 518)"/><ellipse cx="26" cy="423" rx="11" ry="11" transform="rotate(134 26 423)"/><ellipse cx="171" cy="175" rx="10" ry="10" transform="rotate(62 171 175)"/><ellipse cx="437" cy="163" rx="11" ry="9" transform="rotate(100 437 163)"/><ellipse cx="529" cy="524" rx="11" ry="11" transform="rotate(92 529 524)"/><ellipse cx="56" cy="204" rx="11" ry="10" transform="rotate(113 56 204)"/><ellipse cx="663" cy="500" rx="12" ry="9" transform="rotate(113 663 500)"/><ellipse cx="915" cy="444" rx="12" ry="9" transform="rotate(170 915 444)"/><ellipse cx="433" cy="417" rx="10" ry="9" transform="rotate(9 433 417)"/><ellipse cx="455" cy="268" rx="10" ry="10" transform="rotate(137 455 268)"/><ellipse cx="134" cy="379" rx="9" ry="10" transform="rotate(24 134 379)"/><ellipse cx="599" cy="537" rx="12" ry="10" transform="rotate(104 599 537)"/><ellipse cx="195" cy="517" rx="10" ry="10" transform="rotate(24 195 517)"/><ellipse cx="977" cy="338" rx="10" ry="10" transform="rotate(3 977 338)"/><ellipse cx="948" cy="559" rx="10" ry="11" transform="rotate(79 948 559)"/><ellipse cx="523" cy="424" rx="12" ry="9" transform="rotate(166 523 424)"/><ellipse cx="570" cy="318" rx="9" ry="10" transform="rotate(105 570 318)"/><ellipse cx="796" cy="487" rx="11" ry="10" transform="rotate(95 796 487)"/><ellipse cx="634" cy="621" rx="11" ry="11" transform="rotate(8 634 621)"/><ellipse cx="751" cy="396" rx="12" ry="10" transform="rotate(53 751 396)"/><ellipse cx="556" cy="83" rx="10" ry="10" transform="rotate(91 556 83)"/><ellipse cx="661" cy="66" rx="11" ry="10" transform="rotate(150 661 66)"/><ellipse cx="771" cy="488" rx="10" ry="10" transform="rotate(62 771 488)"/><ellipse cx="666" cy="227" rx="10" ry="12" transform="rotate(90 666 227)"/><ellipse cx="442" cy="201" rx="10" ry="11" transform="rotate(160 442 201)"/><ellipse cx="539" cy="715" rx="11" ry="11" transform="rotate(16 539 715)"/><ellipse cx="844" cy="237" rx="11" ry="11" transform="rotate(91 844 237)"/><ellipse cx="440" cy="101" rx="11" ry="9" transform="rotate(66 440 101)"/><ellipse cx="634" cy="409" rx="12" ry="10" transform="rotate(20 634 409)"/><ellipse cx="524" cy="196" rx="11" ry="10" transform="rotate(27 524 196)"/><ellipse cx="460" cy="627" rx="11" ry="11" transform="rotate(149 460 627)"/><ellipse cx="857" cy="526" rx="9" ry="10" transform="rotate(119 857 526)"/></g>
<g fill="#DB8BB6"><ellipse cx="391" cy="644" rx="43" ry="49" transform="rotate(140 391 644)"/><ellipse cx="81" cy="327" rx="43" ry="51" transform="rotate(113 81 327)"/><ellipse cx="265" cy="612" rx="51" ry="47" transform="rotate(21 265 612)"/><ellipse cx="918" cy="366" rx="45" ry="42" transform="rotate(8 918 366)"/><ellipse cx="160" cy="579" rx="51" ry="47" transform="rotate(95 160 579)"/><ellipse cx="84" cy="424" rx="40" ry="37" transform="rotate(127 84 424)"/><ellipse cx="477" cy="374" rx="48" ry="40" transform="rotate(78 477 374)"/><ellipse cx="684" cy="659" rx="40" ry="37" transform="rotate(89 684 659)"/><ellipse cx="819" cy="180" rx="41" ry="35" transform="rotate(114 819 180)"/><ellipse cx="636" cy="200" rx="28" ry="27" transform="rotate(2 636 200)"/><ellipse cx="837" cy="497" rx="22" ry="18" transform="rotate(86 837 497)"/><ellipse cx="606" cy="602" rx="17" ry="20" transform="rotate(108 606 602)"/><ellipse cx="222" cy="64" rx="20" ry="21" transform="rotate(18 222 64)"/><ellipse cx="255" cy="684" rx="13" ry="12" transform="rotate(134 255 684)"/><ellipse cx="340" cy="337" rx="13" ry="13" transform="rotate(121 340 337)"/><ellipse cx="490" cy="314" rx="16" ry="15" transform="rotate(119 490 314)"/><ellipse cx="947" cy="303" rx="16" ry="12" transform="rotate(52 947 303)"/><ellipse cx="431" cy="128" rx="15" ry="14" transform="rotate(166 431 128)"/><ellipse cx="452" cy="238" rx="16" ry="13" transform="rotate(77 452 238)"/><ellipse cx="617" cy="694" rx="16" ry="15" transform="rotate(162 617 694)"/><ellipse cx="603" cy="231" rx="16" ry="14" transform="rotate(21 603 231)"/><ellipse cx="254" cy="542" rx="11" ry="9" transform="rotate(123 254 542)"/><ellipse cx="325" cy="632" rx="10" ry="10" transform="rotate(89 325 632)"/></g>
<g fill="#8A52A0"><ellipse cx="308" cy="134" rx="7" ry="4" transform="rotate(134 308 134)"/><ellipse cx="531" cy="230" rx="7" ry="4" transform="rotate(13 531 230)"/><ellipse cx="253" cy="479" rx="7" ry="4" transform="rotate(96 253 479)"/><ellipse cx="103" cy="190" rx="7" ry="4" transform="rotate(161 103 190)"/><ellipse cx="548" cy="673" rx="7" ry="4" transform="rotate(113 548 673)"/><ellipse cx="764" cy="213" rx="7" ry="4" transform="rotate(64 764 213)"/><ellipse cx="666" cy="598" rx="7" ry="4" transform="rotate(73 666 598)"/><ellipse cx="730" cy="429" rx="7" ry="4" transform="rotate(70 730 429)"/><ellipse cx="507" cy="477" rx="7" ry="4" transform="rotate(121 507 477)"/><ellipse cx="426" cy="640" rx="7" ry="4" transform="rotate(106 426 640)"/><ellipse cx="57" cy="301" rx="7" ry="4" transform="rotate(70 57 301)"/><ellipse cx="287" cy="267" rx="7" ry="4" transform="rotate(68 287 267)"/><ellipse cx="767" cy="300" rx="7" ry="4" transform="rotate(19 767 300)"/><ellipse cx="275" cy="578" rx="7" ry="4" transform="rotate(106 275 578)"/><ellipse cx="262" cy="137" rx="7" ry="4" transform="rotate(70 262 137)"/><ellipse cx="796" cy="520" rx="7" ry="4" transform="rotate(41 796 520)"/><ellipse cx="402" cy="257" rx="7" ry="4" transform="rotate(32 402 257)"/><ellipse cx="932" cy="334" rx="7" ry="4" transform="rotate(141 932 334)"/><ellipse cx="325" cy="437" rx="7" ry="4" transform="rotate(55 325 437)"/><ellipse cx="513" cy="91" rx="7" ry="4" transform="rotate(161 513 91)"/><ellipse cx="612" cy="319" rx="7" ry="4" transform="rotate(172 612 319)"/><ellipse cx="852" cy="612" rx="7" ry="4" transform="rotate(106 852 612)"/><ellipse cx="128" cy="566" rx="7" ry="4" transform="rotate(40 128 566)"/><ellipse cx="844" cy="412" rx="7" ry="4" transform="rotate(97 844 412)"/><ellipse cx="544" cy="368" rx="7" ry="4" transform="rotate(92 544 368)"/><ellipse cx="370" cy="578" rx="7" ry="4" transform="rotate(158 370 578)"/><ellipse cx="97" cy="396" rx="7" ry="4" transform="rotate(58 97 396)"/><ellipse cx="940" cy="524" rx="7" ry="4" transform="rotate(132 940 524)"/><ellipse cx="186" cy="348" rx="7" ry="4" transform="rotate(27 186 348)"/><ellipse cx="635" cy="110" rx="7" ry="4" transform="rotate(65 635 110)"/><ellipse cx="466" cy="403" rx="7" ry="4" transform="rotate(66 466 403)"/><ellipse cx="77" cy="547" rx="7" ry="4" transform="rotate(135 77 547)"/><ellipse cx="690" cy="690" rx="7" ry="4" transform="rotate(117 690 690)"/><ellipse cx="352" cy="218" rx="7" ry="4" transform="rotate(145 352 218)"/><ellipse cx="627" cy="455" rx="7" ry="4" transform="rotate(175 627 455)"/><ellipse cx="890" cy="306" rx="7" ry="4" transform="rotate(20 890 306)"/><ellipse cx="792" cy="181" rx="7" ry="4" transform="rotate(70 792 181)"/><ellipse cx="156" cy="103" rx="7" ry="4" transform="rotate(120 156 103)"/><ellipse cx="617" cy="80" rx="7" ry="4" transform="rotate(95 617 80)"/><ellipse cx="233" cy="229" rx="7" ry="4" transform="rotate(22 233 229)"/><ellipse cx="559" cy="205" rx="7" ry="4" transform="rotate(172 559 205)"/><ellipse cx="552" cy="45" rx="7" ry="4" transform="rotate(8 552 45)"/><ellipse cx="308" cy="519" rx="7" ry="4" transform="rotate(84 308 519)"/><ellipse cx="583" cy="560" rx="7" ry="4" transform="rotate(62 583 560)"/><ellipse cx="452" cy="78" rx="7" ry="4" transform="rotate(124 452 78)"/><ellipse cx="739" cy="123" rx="7" ry="4" transform="rotate(3 739 123)"/><ellipse cx="152" cy="396" rx="7" ry="4" transform="rotate(41 152 396)"/><ellipse cx="303" cy="669" rx="7" ry="4" transform="rotate(78 303 669)"/><ellipse cx="392" cy="135" rx="7" ry="4" transform="rotate(24 392 135)"/><ellipse cx="454" cy="683" rx="7" ry="4" transform="rotate(95 454 683)"/><ellipse cx="208" cy="368" rx="7" ry="4" transform="rotate(168 208 368)"/><ellipse cx="417" cy="225" rx="7" ry="4" transform="rotate(41 417 225)"/><ellipse cx="642" cy="183" rx="7" ry="4" transform="rotate(63 642 183)"/><ellipse cx="414" cy="465" rx="7" ry="4" transform="rotate(75 414 465)"/><ellipse cx="693" cy="340" rx="7" ry="4" transform="rotate(10 693 340)"/><ellipse cx="473" cy="594" rx="7" ry="4" transform="rotate(141 473 594)"/><ellipse cx="473" cy="216" rx="7" ry="4" transform="rotate(97 473 216)"/><ellipse cx="759" cy="647" rx="7" ry="4" transform="rotate(24 759 647)"/><ellipse cx="780" cy="363" rx="7" ry="4" transform="rotate(34 780 363)"/><ellipse cx="588" cy="691" rx="7" ry="4" transform="rotate(4 588 691)"/><ellipse cx="415" cy="364" rx="7" ry="4" transform="rotate(71 415 364)"/><ellipse cx="611" cy="644" rx="7" ry="4" transform="rotate(88 611 644)"/><ellipse cx="173" cy="63" rx="7" ry="4" transform="rotate(109 173 63)"/><ellipse cx="136" cy="457" rx="7" ry="4" transform="rotate(1 136 457)"/><ellipse cx="834" cy="483" rx="7" ry="4" transform="rotate(157 834 483)"/><ellipse cx="968" cy="431" rx="7" ry="4" transform="rotate(120 968 431)"/><ellipse cx="501" cy="567" rx="7" ry="4" transform="rotate(62 501 567)"/><ellipse cx="617" cy="593" rx="7" ry="4" transform="rotate(5 617 593)"/><ellipse cx="571" cy="108" rx="7" ry="4" transform="rotate(122 571 108)"/><ellipse cx="877" cy="229" rx="7" ry="4" transform="rotate(16 877 229)"/><ellipse cx="36" cy="458" rx="7" ry="4" transform="rotate(42 36 458)"/><ellipse cx="856" cy="359" rx="7" ry="4" transform="rotate(116 856 359)"/><ellipse cx="712" cy="316" rx="7" ry="4" transform="rotate(173 712 316)"/><ellipse cx="215" cy="76" rx="7" ry="4" transform="rotate(75 215 76)"/><ellipse cx="215" cy="648" rx="7" ry="4" transform="rotate(21 215 648)"/><ellipse cx="881" cy="435" rx="7" ry="4" transform="rotate(156 881 435)"/></g></g>
<!-- 50_ct.svg -->
<g id="ct" transform="translate(950 1260) scale(0.21829)">
<!-- tower -->
<path d="M535 115 Q535 95 555 95 L920 82 L1340 86 L1500 88 Q1522 90 1525 115 L1572 1075 L1010 1015 L540 955 Z" fill="#D5D1CF" stroke="#A9A9A9" stroke-width="5"/>
<path d="M535 115 Q535 95 555 95 L1040 100 Q1012 105 1010 135 L1010 1010 L540 952 Z" fill="#CDCDCD"/>
<path d="M1040 100 Q1008 104 1008 140 L1008 985 Q1010 1010 1030 1015" fill="none" stroke="#9C9C9C" stroke-width="7"/>
<path d="M920 82 L1340 86 L1340 96 L1040 100 Z" fill="#AFAFAF"/>
<!-- base top -->
<path d="M68 962 L300 914 L545 945 L600 975 L1020 1015 L1250 965 L1255 1035 L1300 1040 L1420 1000 L1425 1060 L1840 1095 L1625 1188 L1000 1110 L545 1050 L85 972 Z" fill="#707070"/>
<path d="M1100 1080 L1300 1040 L1420 1060 L1780 1100 L1570 1178 Z" fill="#8A8A8A"/>
<!-- ribbed slot -->
<path d="M600 975 L1020 1015 L1250 965 L1255 1035 L1025 1090 L600 1035 Z" fill="#3C3C3C"/>
<path d="M600 990 L1022 1032 L1252 980 M600 1005 L1022 1048 L1252 995 M600 1020 L1024 1064 L1254 1010" fill="none" stroke="#2A2A2A" stroke-width="5"/>
<!-- small door -->
<path d="M1300 942 L1418 898 L1420 1000 L1302 1040 Z" fill="#333333" stroke="#8E8E8E" stroke-width="5"/>
<path d="M1305 962 L1415 920 L1416 940 L1306 982 Z" fill="#4A4A4A"/>
<!-- front face -->
<path d="M85 972 L545 1050 L1000 1110 L1625 1188 L1538 1436 L560 1278 L118 1206 L82 1180 Z" fill="#505050"/>
<path d="M95 1160 L560 1235 L1556 1392 L1540 1436 L560 1278 L118 1206 Z" fill="#3E3E3E"/>
<path d="M515 1050 L560 1055 L555 1220 Z" fill="#6A6A6A"/>
<path d="M1020 1112 L1100 1122 L1025 1290 Z" fill="#3F3F3F"/>
<!-- right end -->
<path d="M1625 1188 L1840 1095 L1790 1330 L1700 1380 L1550 1420 Z" fill="#A6A6A6"/>
<path d="M1700 1380 L1790 1330 L1780 1350 L1560 1445 Z" fill="#8C8C8C"/>
<!-- white rim -->
<path d="M68 962 L78 1180 Q85 1205 120 1212 L1540 1445 L1635 1190 L1840 1095" fill="none" stroke="#ECE9E6" stroke-width="11" stroke-linejoin="round"/>
<path d="M85 972 L545 1050 L1000 1110 L1625 1188" fill="none" stroke="#D9D6D3" stroke-width="5"/>
<path d="M170 1232 L1530 1455" fill="none" stroke="#BDBDBD" stroke-width="6"/>
</g>
<!-- 60_rat.svg -->
<g id="ratscene">
<defs>
<linearGradient id="beam" gradientUnits="userSpaceOnUse" x1="1430" y1="515" x2="1255" y2="655"><stop offset="0" stop-color="#56AEE6" stop-opacity="0.95"/><stop offset="0.45" stop-color="#8CC6EA" stop-opacity="0.6"/><stop offset="1" stop-color="#CFE6F4" stop-opacity="0"/></linearGradient>
<radialGradient id="tailg" gradientUnits="userSpaceOnUse" cx="1660" cy="980" r="330"><stop offset="0" stop-color="#C2665A"/><stop offset="0.45" stop-color="#C97467"/><stop offset="0.8" stop-color="#DC968C" stop-opacity="0.6"/><stop offset="1" stop-color="#E3A59D" stop-opacity="0"/></radialGradient>
</defs>
<!-- arrows in page coords -->
<path d="M368.9 903.7 L366.9 904.9 L364.4 906.4 L361.5 908.2 L358.2 910.2 L354.7 912.4 L350.9 914.7 L347.0 917.2 L343.0 919.7 L339.0 922.1 L335.0 924.6 L331.2 927.0 L327.6 929.3 L324.1 931.5 L320.7 933.7 L317.3 935.9 L314.0 938.0 L310.6 940.2 L307.2 942.4 L303.7 944.7 L300.2 947.0 L296.6 949.4 L292.8 951.9 L288.9 954.6 L284.8 957.4 L280.5 960.4 L276.0 963.5 L271.2 966.9 L266.2 970.4 L261.2 973.9 L256.1 977.6 L251.1 981.2 L246.1 984.8 L241.2 988.3 L236.5 991.7 L232.0 994.9 L227.8 998.0 L223.8 1000.9 L220.0 1003.7 L216.3 1006.4 L212.8 1009.0 L209.3 1011.5 L206.0 1014.0 L202.8 1016.5 L199.6 1018.9 L196.5 1021.3 L193.5 1023.6 L190.6 1026.0 L187.7 1028.4 L184.9 1030.7 L182.2 1033.0 L179.5 1035.3 L177.0 1037.5 L174.5 1039.8 L172.1 1042.0 L169.8 1044.2 L167.5 1046.4 L165.3 1048.5 L163.2 1050.7 L161.1 1052.9 L159.1 1055.2 L157.2 1057.4 L155.4 1059.6 L153.6 1061.8 L151.9 1064.0 L150.2 1066.2 L148.7 1068.4 L147.2 1070.6 L145.7 1072.8 L144.3 1075.1 L143.0 1077.3 L141.8 1079.5 L140.5 1081.7 L139.4 1084.0 L138.3 1086.2 L137.3 1088.5 L136.3 1090.7 L135.5 1093.0 L134.6 1095.2 L133.9 1097.5 L133.1 1099.8 L132.5 1102.0 L131.9 1104.3 L131.3 1106.6 L130.8 1108.9 L130.3 1111.3 L129.9 1113.6 L129.6 1116.0 L129.2 1118.4 L129.0 1120.7 L128.8 1123.1 L128.6 1125.5 L128.5 1128.0 L128.5 1130.4 L128.5 1132.9 L128.5 1135.4 L128.6 1137.9 L128.8 1140.4 L129.0 1143.0 L129.3 1145.7 L129.6 1148.3 L130.0 1151.0 L130.4 1153.7 L130.9 1156.3 L131.4 1159.0 L131.9 1161.6 L132.5 1164.3 L133.1 1166.8 L133.8 1169.4 L134.5 1171.9 L135.2 1174.4 L136.0 1176.8 L136.8 1179.2 L137.7 1181.5 L138.6 1183.9 L139.5 1186.2 L140.5 1188.5 L141.4 1190.9 L142.4 1193.2 L143.5 1195.7 L144.5 1198.1 L145.6 1200.7 L146.8 1203.3 L148.0 1206.0 L149.3 1208.6 L150.6 1211.3 L151.9 1214.1 L153.2 1216.8 L154.5 1219.5 L155.8 1222.2 L157.1 1224.9 L158.4 1227.6 L159.7 1230.3 L161.0 1233.0 L162.4 1235.8 L163.8 1238.7 L165.2 1241.7 L166.6 1244.6 L168.0 1247.5 L169.4 1250.3 L170.8 1253.0 L172.0 1255.6 L173.2 1258.1 L174.3 1260.3 L175.3 1262.3 L176.2 1264.1 L177.0 1265.7 L177.7 1267.2 L178.4 1268.6 L179.0 1269.8 L179.5 1270.9 L180.0 1271.8 L180.5 1272.7 L180.9 1273.5 L181.2 1274.2 L181.5 1274.8 L181.8 1275.4 L191.2 1270.6 L190.9 1270.1 L190.6 1269.4 L190.2 1268.7 L189.8 1268.0 L189.4 1267.1 L188.9 1266.1 L188.4 1265.1 L187.8 1263.9 L187.1 1262.6 L186.4 1261.1 L185.6 1259.5 L184.7 1257.7 L183.7 1255.7 L182.7 1253.5 L181.5 1251.0 L180.2 1248.4 L178.9 1245.7 L177.5 1242.9 L176.1 1240.0 L174.7 1237.1 L173.3 1234.2 L171.9 1231.3 L170.6 1228.4 L169.3 1225.7 L168.0 1223.0 L166.7 1220.3 L165.4 1217.6 L164.1 1214.9 L162.8 1212.2 L161.5 1209.4 L160.3 1206.8 L159.0 1204.1 L157.8 1201.5 L156.6 1198.9 L155.5 1196.4 L154.5 1193.9 L153.4 1191.4 L152.4 1189.0 L151.4 1186.7 L150.5 1184.4 L149.5 1182.1 L148.7 1179.9 L147.8 1177.7 L147.0 1175.5 L146.3 1173.4 L145.5 1171.1 L144.9 1168.9 L144.2 1166.6 L143.6 1164.2 L143.0 1161.8 L142.5 1159.4 L142.0 1156.9 L141.5 1154.4 L141.1 1151.9 L140.7 1149.4 L140.3 1146.9 L140.0 1144.4 L139.7 1142.0 L139.5 1139.6 L139.4 1137.3 L139.3 1135.0 L139.2 1132.8 L139.2 1130.5 L139.3 1128.3 L139.4 1126.1 L139.5 1123.9 L139.7 1121.8 L139.9 1119.6 L140.1 1117.5 L140.4 1115.3 L140.8 1113.2 L141.2 1111.1 L141.6 1108.9 L142.1 1106.8 L142.6 1104.7 L143.2 1102.7 L143.8 1100.6 L144.4 1098.6 L145.1 1096.5 L145.9 1094.5 L146.7 1092.4 L147.5 1090.4 L148.5 1088.3 L149.5 1086.3 L150.5 1084.2 L151.6 1082.1 L152.8 1080.0 L154.0 1077.9 L155.2 1075.8 L156.5 1073.7 L157.9 1071.6 L159.4 1069.5 L160.9 1067.3 L162.5 1065.2 L164.1 1063.0 L165.9 1060.8 L167.7 1058.7 L169.5 1056.5 L171.5 1054.3 L173.5 1052.1 L175.5 1049.9 L177.7 1047.7 L179.9 1045.4 L182.2 1043.1 L184.6 1040.8 L187.1 1038.5 L189.6 1036.1 L192.3 1033.6 L195.0 1031.2 L197.8 1028.8 L200.7 1026.3 L203.6 1023.8 L206.6 1021.3 L209.7 1018.8 L212.9 1016.2 L216.2 1013.5 L219.7 1010.8 L223.2 1007.9 L226.9 1005.0 L230.8 1002.0 L234.9 998.8 L239.3 995.4 L243.9 991.9 L248.6 988.2 L253.5 984.5 L258.5 980.7 L263.5 977.0 L268.4 973.3 L273.2 969.7 L277.9 966.2 L282.4 962.9 L286.6 959.8 L290.5 956.9 L294.4 954.2 L298.0 951.6 L301.6 949.1 L305.1 946.6 L308.4 944.3 L311.8 942.0 L315.1 939.7 L318.4 937.5 L321.7 935.2 L325.0 933.0 L328.4 930.7 L332.0 928.3 L335.8 925.8 L339.6 923.2 L343.6 920.6 L347.5 918.0 L351.4 915.5 L355.1 913.1 L358.6 910.8 L361.8 908.7 L364.7 906.8 L367.1 905.2 L369.1 903.9Z" fill="#A0313F"/>
<path d="M156.5 1286 L205.5 1260 L206.5 1322Z" fill="#A0313F"/>
<g transform="translate(80 520) scale(0.34025)">
<!-- teal arrow -->
<path d="M1790 648 C1950 730 2082 880 2102 1080 C2108 1200 2065 1320 2012 1420 L1974 1398 C2020 1300 2064 1190 2056 1080 C2040 900 1940 750 1790 648Z" fill="#2D7186"/>
<path d="M1925 1357 L2062 1448 L1905 1528Z" fill="#2D7186"/>
<!-- tail -->
<clipPath id="tailclip"><path d="M1658.3 1004.7 L1662.1 1007.3 L1666.9 1010.3 L1672.2 1013.6 L1678.0 1017.1 L1684.1 1020.9 L1690.4 1024.9 L1696.8 1029.1 L1703.0 1033.4 L1708.9 1037.8 L1714.3 1042.1 L1718.9 1046.2 L1722.8 1050.2 L1726.5 1054.6 L1730.2 1059.3 L1733.8 1064.3 L1737.3 1069.5 L1740.6 1074.9 L1743.7 1080.5 L1746.7 1086.2 L1749.5 1092.1 L1752.2 1098.0 L1754.6 1104.1 L1756.9 1110.2 L1758.9 1116.3 L1760.8 1122.6 L1762.4 1129.0 L1763.9 1135.8 L1765.2 1142.7 L1766.4 1149.8 L1767.3 1156.9 L1768.1 1164.1 L1768.6 1171.3 L1769.0 1178.5 L1769.2 1185.5 L1769.2 1192.4 L1769.0 1199.0 L1768.7 1205.6 L1768.1 1212.1 L1767.4 1218.6 L1766.5 1225.1 L1765.4 1231.5 L1764.1 1237.7 L1762.7 1243.8 L1761.0 1249.7 L1759.3 1255.4 L1757.3 1260.9 L1755.3 1266.0 L1753.0 1271.0 L1750.6 1275.9 L1747.9 1280.8 L1745.2 1285.5 L1742.4 1290.0 L1739.4 1294.2 L1736.4 1298.2 L1733.2 1301.9 L1729.9 1305.4 L1726.4 1308.6 L1722.8 1311.5 L1719.0 1314.2 L1715.0 1316.6 L1710.6 1318.7 L1705.7 1320.7 L1700.4 1322.6 L1694.7 1324.3 L1688.5 1325.7 L1682.1 1327.0 L1675.3 1328.1 L1668.4 1329.0 L1661.3 1329.8 L1654.1 1330.3 L1646.8 1330.7 L1639.5 1331.0 L1632.7 1331.1 L1626.2 1330.9 L1619.9 1330.4 L1613.4 1329.8 L1606.8 1329.0 L1599.7 1327.9 L1592.1 1326.7 L1584.0 1325.4 L1575.0 1323.9 L1565.3 1322.4 L1554.6 1320.8 L1542.9 1319.2 L1530.2 1317.5 L1516.5 1315.7 L1502.0 1313.7 L1486.6 1311.6 L1470.7 1309.4 L1454.2 1307.1 L1437.4 1304.8 L1420.3 1302.4 L1403.2 1300.1 L1386.1 1297.7 L1369.3 1295.4 L1352.8 1293.2 L1336.4 1290.9 L1319.6 1288.6 L1302.5 1286.1 L1285.1 1283.6 L1267.7 1281.1 L1250.3 1278.7 L1233.0 1276.3 L1216.0 1274.0 L1199.2 1271.8 L1182.9 1269.9 L1167.0 1268.1 L1151.9 1266.6 L1137.2 1265.3 L1123.0 1264.3 L1109.1 1263.4 L1095.5 1262.6 L1082.3 1262.0 L1069.5 1261.5 L1057.0 1261.2 L1044.9 1261.0 L1033.1 1260.9 L1021.7 1260.8 L1010.7 1260.9 L1000.0 1261.0 L989.6 1261.2 L979.7 1261.6 L970.3 1262.1 L961.3 1262.7 L952.6 1263.5 L944.3 1264.3 L936.2 1265.2 L928.4 1266.1 L920.8 1267.1 L913.2 1268.1 L905.8 1269.1 L898.3 1270.1 L890.8 1271.1 L883.3 1272.3 L876.1 1273.4 L868.9 1274.7 L862.0 1275.9 L855.1 1277.2 L848.5 1278.6 L842.0 1279.9 L835.6 1281.2 L829.4 1282.6 L823.4 1283.9 L817.5 1285.2 L811.6 1286.6 L805.8 1288.1 L800.1 1289.5 L794.5 1291.0 L789.0 1292.6 L783.8 1294.1 L778.7 1295.5 L773.9 1296.9 L769.4 1298.3 L765.1 1299.6 L761.2 1300.7 L757.6 1301.8 L754.2 1302.7 L751.2 1303.6 L748.4 1304.5 L745.8 1305.2 L743.6 1305.9 L741.5 1306.6 L739.6 1307.1 L738.0 1307.7 L736.5 1308.1 L735.2 1308.5 L734.0 1308.9 L732.9 1309.3 L737.1 1326.7 L738.2 1326.6 L739.5 1326.3 L740.9 1326.1 L742.4 1325.8 L744.1 1325.5 L746.0 1325.2 L748.1 1324.8 L750.5 1324.4 L753.0 1323.9 L755.9 1323.4 L759.0 1322.9 L762.4 1322.2 L766.2 1321.5 L770.4 1320.7 L774.8 1319.8 L779.4 1318.8 L784.3 1317.8 L789.3 1316.8 L794.6 1315.8 L800.0 1314.7 L805.5 1313.7 L811.1 1312.7 L816.8 1311.7 L822.5 1310.8 L828.4 1309.8 L834.4 1308.8 L840.6 1307.8 L846.9 1306.9 L853.3 1305.9 L859.9 1304.9 L866.5 1303.9 L873.3 1303.0 L880.2 1302.2 L887.2 1301.4 L894.4 1300.6 L901.7 1299.9 L909.2 1299.2 L916.6 1298.6 L924.1 1297.9 L931.6 1297.3 L939.2 1296.7 L946.9 1296.2 L954.9 1295.8 L963.2 1295.4 L971.7 1295.1 L980.7 1295.0 L990.1 1294.9 L1000.0 1295.0 L1010.5 1295.2 L1021.3 1295.4 L1032.5 1295.7 L1044.0 1296.1 L1055.8 1296.5 L1068.0 1297.1 L1080.5 1297.8 L1093.4 1298.6 L1106.6 1299.5 L1120.1 1300.7 L1134.0 1301.9 L1148.1 1303.4 L1162.9 1305.1 L1178.2 1307.1 L1194.2 1309.3 L1210.7 1311.7 L1227.6 1314.2 L1244.7 1316.8 L1262.0 1319.5 L1279.3 1322.3 L1296.6 1325.0 L1313.8 1327.7 L1330.7 1330.3 L1347.2 1332.8 L1363.6 1335.2 L1380.4 1337.7 L1397.4 1340.3 L1414.5 1342.8 L1431.5 1345.4 L1448.3 1347.9 L1464.8 1350.3 L1480.8 1352.7 L1496.1 1355.0 L1510.8 1357.1 L1524.5 1359.0 L1537.1 1360.8 L1548.5 1362.4 L1558.8 1364.0 L1568.3 1365.5 L1577.2 1367.0 L1585.5 1368.3 L1593.4 1369.6 L1601.2 1370.7 L1608.8 1371.6 L1616.5 1372.3 L1624.3 1372.8 L1632.3 1373.1 L1640.5 1373.0 L1648.7 1372.7 L1656.9 1372.2 L1665.1 1371.6 L1673.3 1370.7 L1681.5 1369.7 L1689.6 1368.4 L1697.6 1366.8 L1705.4 1364.9 L1713.1 1362.6 L1720.7 1360.0 L1728.0 1357.0 L1735.0 1353.4 L1741.7 1349.5 L1748.0 1345.1 L1753.8 1340.4 L1759.2 1335.4 L1764.3 1330.1 L1769.0 1324.7 L1773.3 1319.0 L1777.4 1313.2 L1781.1 1307.3 L1784.6 1301.3 L1787.9 1295.2 L1791.0 1289.0 L1793.9 1282.5 L1796.7 1275.6 L1799.1 1268.6 L1801.3 1261.4 L1803.3 1254.1 L1805.0 1246.7 L1806.5 1239.1 L1807.8 1231.6 L1808.9 1223.9 L1809.8 1216.3 L1810.5 1208.6 L1811.0 1201.0 L1811.3 1193.2 L1811.4 1185.3 L1811.3 1177.2 L1811.1 1169.0 L1810.6 1160.8 L1809.9 1152.5 L1809.1 1144.1 L1807.9 1135.8 L1806.6 1127.6 L1805.0 1119.5 L1803.2 1111.5 L1801.1 1103.7 L1798.7 1096.1 L1796.2 1088.6 L1793.4 1081.2 L1790.3 1073.9 L1787.0 1066.6 L1783.5 1059.5 L1779.8 1052.5 L1775.8 1045.6 L1771.5 1038.9 L1767.1 1032.4 L1762.4 1026.1 L1757.2 1019.8 L1751.3 1013.4 L1744.7 1007.2 L1737.8 1001.3 L1730.8 995.8 L1723.6 990.6 L1716.6 985.7 L1709.7 981.1 L1703.4 977.0 L1697.6 973.2 L1692.6 970.0 L1688.7 967.4 L1685.7 965.3Z"/></clipPath>
<path d="M1658.3 1004.7 L1662.1 1007.3 L1666.9 1010.3 L1672.2 1013.6 L1678.0 1017.1 L1684.1 1020.9 L1690.4 1024.9 L1696.8 1029.1 L1703.0 1033.4 L1708.9 1037.8 L1714.3 1042.1 L1718.9 1046.2 L1722.8 1050.2 L1726.5 1054.6 L1730.2 1059.3 L1733.8 1064.3 L1737.3 1069.5 L1740.6 1074.9 L1743.7 1080.5 L1746.7 1086.2 L1749.5 1092.1 L1752.2 1098.0 L1754.6 1104.1 L1756.9 1110.2 L1758.9 1116.3 L1760.8 1122.6 L1762.4 1129.0 L1763.9 1135.8 L1765.2 1142.7 L1766.4 1149.8 L1767.3 1156.9 L1768.1 1164.1 L1768.6 1171.3 L1769.0 1178.5 L1769.2 1185.5 L1769.2 1192.4 L1769.0 1199.0 L1768.7 1205.6 L1768.1 1212.1 L1767.4 1218.6 L1766.5 1225.1 L1765.4 1231.5 L1764.1 1237.7 L1762.7 1243.8 L1761.0 1249.7 L1759.3 1255.4 L1757.3 1260.9 L1755.3 1266.0 L1753.0 1271.0 L1750.6 1275.9 L1747.9 1280.8 L1745.2 1285.5 L1742.4 1290.0 L1739.4 1294.2 L1736.4 1298.2 L1733.2 1301.9 L1729.9 1305.4 L1726.4 1308.6 L1722.8 1311.5 L1719.0 1314.2 L1715.0 1316.6 L1710.6 1318.7 L1705.7 1320.7 L1700.4 1322.6 L1694.7 1324.3 L1688.5 1325.7 L1682.1 1327.0 L1675.3 1328.1 L1668.4 1329.0 L1661.3 1329.8 L1654.1 1330.3 L1646.8 1330.7 L1639.5 1331.0 L1632.7 1331.1 L1626.2 1330.9 L1619.9 1330.4 L1613.4 1329.8 L1606.8 1329.0 L1599.7 1327.9 L1592.1 1326.7 L1584.0 1325.4 L1575.0 1323.9 L1565.3 1322.4 L1554.6 1320.8 L1542.9 1319.2 L1530.2 1317.5 L1516.5 1315.7 L1502.0 1313.7 L1486.6 1311.6 L1470.7 1309.4 L1454.2 1307.1 L1437.4 1304.8 L1420.3 1302.4 L1403.2 1300.1 L1386.1 1297.7 L1369.3 1295.4 L1352.8 1293.2 L1336.4 1290.9 L1319.6 1288.6 L1302.5 1286.1 L1285.1 1283.6 L1267.7 1281.1 L1250.3 1278.7 L1233.0 1276.3 L1216.0 1274.0 L1199.2 1271.8 L1182.9 1269.9 L1167.0 1268.1 L1151.9 1266.6 L1137.2 1265.3 L1123.0 1264.3 L1109.1 1263.4 L1095.5 1262.6 L1082.3 1262.0 L1069.5 1261.5 L1057.0 1261.2 L1044.9 1261.0 L1033.1 1260.9 L1021.7 1260.8 L1010.7 1260.9 L1000.0 1261.0 L989.6 1261.2 L979.7 1261.6 L970.3 1262.1 L961.3 1262.7 L952.6 1263.5 L944.3 1264.3 L936.2 1265.2 L928.4 1266.1 L920.8 1267.1 L913.2 1268.1 L905.8 1269.1 L898.3 1270.1 L890.8 1271.1 L883.3 1272.3 L876.1 1273.4 L868.9 1274.7 L862.0 1275.9 L855.1 1277.2 L848.5 1278.6 L842.0 1279.9 L835.6 1281.2 L829.4 1282.6 L823.4 1283.9 L817.5 1285.2 L811.6 1286.6 L805.8 1288.1 L800.1 1289.5 L794.5 1291.0 L789.0 1292.6 L783.8 1294.1 L778.7 1295.5 L773.9 1296.9 L769.4 1298.3 L765.1 1299.6 L761.2 1300.7 L757.6 1301.8 L754.2 1302.7 L751.2 1303.6 L748.4 1304.5 L745.8 1305.2 L743.6 1305.9 L741.5 1306.6 L739.6 1307.1 L738.0 1307.7 L736.5 1308.1 L735.2 1308.5 L734.0 1308.9 L732.9 1309.3 L737.1 1326.7 L738.2 1326.6 L739.5 1326.3 L740.9 1326.1 L742.4 1325.8 L744.1 1325.5 L746.0 1325.2 L748.1 1324.8 L750.5 1324.4 L753.0 1323.9 L755.9 1323.4 L759.0 1322.9 L762.4 1322.2 L766.2 1321.5 L770.4 1320.7 L774.8 1319.8 L779.4 1318.8 L784.3 1317.8 L789.3 1316.8 L794.6 1315.8 L800.0 1314.7 L805.5 1313.7 L811.1 1312.7 L816.8 1311.7 L822.5 1310.8 L828.4 1309.8 L834.4 1308.8 L840.6 1307.8 L846.9 1306.9 L853.3 1305.9 L859.9 1304.9 L866.5 1303.9 L873.3 1303.0 L880.2 1302.2 L887.2 1301.4 L894.4 1300.6 L901.7 1299.9 L909.2 1299.2 L916.6 1298.6 L924.1 1297.9 L931.6 1297.3 L939.2 1296.7 L946.9 1296.2 L954.9 1295.8 L963.2 1295.4 L971.7 1295.1 L980.7 1295.0 L990.1 1294.9 L1000.0 1295.0 L1010.5 1295.2 L1021.3 1295.4 L1032.5 1295.7 L1044.0 1296.1 L1055.8 1296.5 L1068.0 1297.1 L1080.5 1297.8 L1093.4 1298.6 L1106.6 1299.5 L1120.1 1300.7 L1134.0 1301.9 L1148.1 1303.4 L1162.9 1305.1 L1178.2 1307.1 L1194.2 1309.3 L1210.7 1311.7 L1227.6 1314.2 L1244.7 1316.8 L1262.0 1319.5 L1279.3 1322.3 L1296.6 1325.0 L1313.8 1327.7 L1330.7 1330.3 L1347.2 1332.8 L1363.6 1335.2 L1380.4 1337.7 L1397.4 1340.3 L1414.5 1342.8 L1431.5 1345.4 L1448.3 1347.9 L1464.8 1350.3 L1480.8 1352.7 L1496.1 1355.0 L1510.8 1357.1 L1524.5 1359.0 L1537.1 1360.8 L1548.5 1362.4 L1558.8 1364.0 L1568.3 1365.5 L1577.2 1367.0 L1585.5 1368.3 L1593.4 1369.6 L1601.2 1370.7 L1608.8 1371.6 L1616.5 1372.3 L1624.3 1372.8 L1632.3 1373.1 L1640.5 1373.0 L1648.7 1372.7 L1656.9 1372.2 L1665.1 1371.6 L1673.3 1370.7 L1681.5 1369.7 L1689.6 1368.4 L1697.6 1366.8 L1705.4 1364.9 L1713.1 1362.6 L1720.7 1360.0 L1728.0 1357.0 L1735.0 1353.4 L1741.7 1349.5 L1748.0 1345.1 L1753.8 1340.4 L1759.2 1335.4 L1764.3 1330.1 L1769.0 1324.7 L1773.3 1319.0 L1777.4 1313.2 L1781.1 1307.3 L1784.6 1301.3 L1787.9 1295.2 L1791.0 1289.0 L1793.9 1282.5 L1796.7 1275.6 L1799.1 1268.6 L1801.3 1261.4 L1803.3 1254.1 L1805.0 1246.7 L1806.5 1239.1 L1807.8 1231.6 L1808.9 1223.9 L1809.8 1216.3 L1810.5 1208.6 L1811.0 1201.0 L1811.3 1193.2 L1811.4 1185.3 L1811.3 1177.2 L1811.1 1169.0 L1810.6 1160.8 L1809.9 1152.5 L1809.1 1144.1 L1807.9 1135.8 L1806.6 1127.6 L1805.0 1119.5 L1803.2 1111.5 L1801.1 1103.7 L1798.7 1096.1 L1796.2 1088.6 L1793.4 1081.2 L1790.3 1073.9 L1787.0 1066.6 L1783.5 1059.5 L1779.8 1052.5 L1775.8 1045.6 L1771.5 1038.9 L1767.1 1032.4 L1762.4 1026.1 L1757.2 1019.8 L1751.3 1013.4 L1744.7 1007.2 L1737.8 1001.3 L1730.8 995.8 L1723.6 990.6 L1716.6 985.7 L1709.7 981.1 L1703.4 977.0 L1697.6 973.2 L1692.6 970.0 L1688.7 967.4 L1685.7 965.3Z" fill="#DC928B" stroke="#CB736D" stroke-width="3"/>
<g clip-path="url(#tailclip)"><path d="M1672.0 985.0 L1675.4 987.3 L1679.7 990.2 L1684.9 993.4 L1690.7 997.0 L1696.9 1001.0 L1703.5 1005.3 L1710.2 1009.9 L1716.9 1014.6 L1723.4 1019.6 L1729.5 1024.6 L1735.1 1029.8 L1740.0 1035.0 L1744.4 1040.3 L1748.6 1045.9 L1752.7 1051.6 L1756.5 1057.6 L1760.2 1063.7 L1763.6 1070.0 L1766.9 1076.4 L1769.9 1083.0 L1772.8 1089.6 L1775.4 1096.3 L1777.8 1103.1 L1780.0 1110.0 L1782.0 1117.0 L1783.7 1124.2 L1785.3 1131.7 L1786.6 1139.3 L1787.7 1146.9 L1788.6 1154.7 L1789.3 1162.4 L1789.9 1170.2 L1790.2 1177.9 L1790.3 1185.4 L1790.2 1192.8 L1790.0 1200.0 L1789.6 1207.1 L1789.0 1214.2 L1788.1 1221.3 L1787.1 1228.3 L1786.0 1235.3 L1784.6 1242.2 L1783.0 1248.9 L1781.2 1255.6 L1779.2 1262.0 L1777.0 1268.2 L1774.6 1274.2 L1772.0 1280.0 L1769.2 1285.6 L1766.3 1291.1 L1763.2 1296.4 L1759.9 1301.6 L1756.4 1306.6 L1752.7 1311.4 L1748.7 1316.0 L1744.6 1320.4 L1740.1 1324.5 L1735.4 1328.3 L1730.3 1331.8 L1725.0 1335.0 L1719.3 1337.8 L1713.2 1340.4 L1706.8 1342.6 L1700.0 1344.6 L1693.0 1346.2 L1685.8 1347.7 L1678.4 1348.9 L1670.9 1349.9 L1663.2 1350.7 L1655.5 1351.3 L1647.7 1351.7 L1640.0 1352.0 L1632.5 1352.1 L1625.2 1351.9 L1618.2 1351.4 L1611.1 1350.7 L1604.0 1349.8 L1596.6 1348.8 L1588.8 1347.5 L1580.6 1346.2 L1571.7 1344.7 L1562.0 1343.2 L1551.5 1341.6 L1540.0 1340.0 L1527.3 1338.3 L1513.7 1336.4 L1499.1 1334.3 L1483.7 1332.1 L1467.7 1329.9 L1451.2 1327.5 L1434.4 1325.1 L1417.4 1322.6 L1400.3 1320.2 L1383.3 1317.7 L1366.5 1315.3 L1350.0 1313.0 L1333.5 1310.6 L1316.7 1308.1 L1299.5 1305.6 L1282.2 1303.0 L1264.8 1300.3 L1247.5 1297.8 L1230.3 1295.2 L1213.3 1292.8 L1196.7 1290.5 L1180.6 1288.5 L1164.9 1286.6 L1150.0 1285.0 L1135.6 1283.6 L1121.5 1282.5 L1107.8 1281.4 L1094.4 1280.6 L1081.4 1279.9 L1068.8 1279.3 L1056.4 1278.9 L1044.4 1278.5 L1032.8 1278.3 L1021.5 1278.1 L1010.6 1278.0 L1000.0 1278.0 L989.9 1278.1 L980.2 1278.3 L971.0 1278.6 L962.2 1279.1 L953.8 1279.6 L945.6 1280.2 L937.7 1280.9 L930.0 1281.7 L922.4 1282.5 L914.9 1283.3 L907.5 1284.2 L900.0 1285.0 L892.6 1285.9 L885.3 1286.8 L878.1 1287.8 L871.1 1288.9 L864.2 1289.9 L857.5 1291.1 L850.9 1292.2 L844.4 1293.4 L838.1 1294.5 L831.9 1295.7 L825.9 1296.9 L820.0 1298.0 L814.2 1299.2 L808.4 1300.4 L802.8 1301.6 L797.2 1302.9 L791.8 1304.2 L786.6 1305.4 L781.5 1306.7 L776.7 1307.9 L772.1 1309.0 L767.7 1310.1 L763.7 1311.1 L760.0 1312.0 L756.6 1312.8 L753.5 1313.5 L750.7 1314.2 L748.1 1314.8 L745.8 1315.4 L743.8 1315.9 L741.9 1316.3 L740.2 1316.7 L738.7 1317.1 L737.3 1317.4 L736.1 1317.7 L735.0 1318.0" fill="none" stroke="#CC7A74" stroke-width="70" stroke-dasharray="3 17" opacity="0.8"/></g>
<path d="M1658.7 1005.6 L1660.6 1006.8 L1663.1 1008.3 L1665.9 1010.1 L1669.1 1012.0 L1672.5 1014.1 L1676.0 1016.4 L1679.6 1018.6 L1683.2 1020.9 L1686.7 1023.2 L1690.1 1025.4 L1693.1 1027.5 L1695.9 1029.4 L1698.8 1031.5 L1701.6 1033.4 L1704.3 1035.3 L1706.8 1037.1 L1709.1 1038.7 L1711.3 1040.3 L1713.3 1041.8 L1715.2 1043.4 L1716.9 1044.9 L1718.6 1046.5 L1720.3 1048.2 L1721.9 1050.0 L1723.6 1052.0 L1725.3 1054.4 L1727.2 1057.0 L1729.1 1059.8 L1731.0 1062.8 L1732.9 1066.0 L1734.7 1069.2 L1736.6 1072.5 L1738.4 1075.8 L1740.2 1079.1 L1741.9 1082.3 L1743.5 1085.4 L1744.9 1088.2 L1746.3 1090.9 L1747.5 1093.5 L1748.7 1096.0 L1749.8 1098.5 L1750.9 1100.9 L1751.9 1103.4 L1752.8 1105.8 L1753.8 1108.3 L1754.7 1110.9 L1755.5 1113.6 L1756.4 1116.2 L1757.2 1118.9 L1758.0 1121.9 L1758.7 1125.3 L1759.5 1128.8 L1760.3 1132.5 L1761.0 1136.2 L1761.7 1139.7 L1762.3 1143.2 L1762.9 1146.4 L1763.5 1149.4 L1764.0 1152.0 L1764.4 1154.1 L1807.6 1145.9 L1807.3 1144.1 L1806.9 1141.8 L1806.5 1139.0 L1806.0 1135.7 L1805.4 1132.1 L1804.7 1128.2 L1804.0 1124.2 L1803.3 1120.1 L1802.5 1115.9 L1801.6 1111.7 L1800.6 1107.7 L1799.6 1103.8 L1798.6 1100.3 L1797.6 1097.0 L1796.6 1093.7 L1795.5 1090.5 L1794.3 1087.2 L1793.1 1084.1 L1791.9 1080.9 L1790.5 1077.7 L1789.1 1074.5 L1787.7 1071.2 L1786.1 1067.9 L1784.5 1064.6 L1782.9 1061.3 L1781.1 1057.8 L1779.3 1054.2 L1777.3 1050.4 L1775.3 1046.6 L1773.1 1042.8 L1770.9 1038.9 L1768.6 1035.0 L1766.1 1031.1 L1763.6 1027.3 L1760.9 1023.6 L1758.1 1020.0 L1755.2 1016.6 L1752.2 1013.4 L1749.3 1010.5 L1746.3 1007.7 L1743.4 1005.2 L1740.5 1002.8 L1737.6 1000.6 L1734.8 998.5 L1732.1 996.5 L1729.4 994.5 L1726.8 992.6 L1724.1 990.6 L1720.9 988.2 L1717.3 985.7 L1713.6 983.1 L1709.8 980.5 L1706.0 978.0 L1702.3 975.5 L1698.6 973.1 L1695.2 970.9 L1692.1 968.9 L1689.4 967.1 L1687.1 965.6 L1685.3 964.4Z" fill="#BC685C"/>
<circle cx="736" cy="1318" r="9" fill="#DC928B"/>
<!-- feet -->
<g fill="#EFA9A1" stroke="#E08E86" stroke-width="3">
<path d="M405 1062 C360 1075 300 1085 270 1098 C288 1110 330 1106 362 1100 C320 1115 280 1126 258 1136 C290 1148 370 1142 422 1134 L435 1088Z"/>
<path d="M1093 1096 C1150 1064 1250 1048 1332 1058 L1326 1088 C1260 1082 1180 1096 1140 1110Z"/>
<path d="M1128 1142 C1200 1110 1300 1100 1346 1086 C1360 1064 1400 1054 1432 1080 C1412 1112 1382 1132 1342 1142 C1280 1142 1200 1162 1160 1152Z"/>
</g>
<!-- body outline/tan underside -->
<path d="M82 750 C125 700 200 635 292 583 C330 560 380 545 420 535 L520 520 C600 540 660 562 720 550 C800 556 850 540 900 510 C960 480 1050 465 1130 465 C1250 465 1350 490 1420 530 C1500 580 1560 660 1600 760 C1640 850 1672 920 1682 975 C1690 1010 1650 1030 1560 1044 C1500 1050 1440 1056 1420 1066 C1330 1070 1200 1046 1080 1034 C900 1004 850 980 800 975 C700 990 620 1035 560 1065 C500 1095 460 1118 432 1124 L408 1112 C400 1075 470 1010 500 960 C498 900 490 860 440 818 C380 822 300 838 240 833 C170 818 110 792 90 772Z" fill="#C9B7A8"/>
<!-- body shade -->
<path d="M82 750 C125 700 200 635 292 583 C330 560 380 545 420 535 L520 520 C600 540 660 562 720 550 C800 556 850 540 900 510 C960 480 1050 465 1130 465 C1250 465 1350 490 1420 530 C1500 580 1560 660 1600 760 C1640 850 1668 915 1676 965 C1660 1000 1600 1015 1540 1025 C1480 1030 1440 1040 1415 1052 C1330 1056 1200 1030 1080 1018 C900 990 850 965 800 962 C700 975 620 1020 560 1050 C500 1080 460 1100 430 1108 L412 1100 C410 1070 480 1010 510 960 C508 900 500 856 446 812 C380 815 300 828 240 824 C170 810 112 786 92 768Z" fill="#DAD2CE"/>
<path d="M1435 938 C1440 980 1432 1010 1426 1034 C1470 1040 1520 1040 1560 1036 C1610 1030 1660 1010 1676 975 C1660 975 1640 972 1617 968 C1580 990 1540 996 1500 992 C1470 985 1448 965 1435 938Z" fill="#C9BAAB"/>
<!-- body light -->
<path d="M84 750 C125 700 200 635 292 583 C330 560 380 545 420 535 L520 520 C600 540 660 562 720 550 C800 556 850 540 900 510 C960 480 1050 465 1130 465 C1250 465 1350 490 1420 530 C1480 570 1505 640 1495 720 C1470 820 1380 880 1250 895 C1120 905 1000 895 900 880 C820 868 770 850 745 830 C760 880 740 930 690 945 C640 990 570 1010 545 995 C520 960 525 900 500 850 C490 810 470 790 440 790 C400 800 330 815 260 800 C200 790 130 780 92 765Z" fill="#E7E2E0"/>
<!-- cheek/neck shadow -->
<path d="M470 650 C490 700 480 760 450 790 C480 800 500 830 505 860 C520 800 510 720 470 650Z" fill="#D9D0CC"/>
<path d="M650 562 C670 575 700 560 722 548 C700 560 690 590 660 600Z" fill="#D9D0CC"/>
<!-- ear -->
<path d="M408 520 C402 468 436 440 470 446 C512 460 520 520 494 582 C474 625 452 640 438 628 C418 592 410 556 408 520Z" fill="#E4DAD6"/>
<path d="M420 525 C416 482 440 458 466 462 C496 474 498 522 478 570 C464 605 452 618 444 610 C430 580 422 552 420 525Z" fill="#E49C95"/>
<path d="M440 530 C450 500 470 500 470 530 C468 560 455 590 448 600 C440 580 436 555 440 530Z" fill="#D98A84"/>
<!-- eye nose whiskers -->
<circle cx="266" cy="656" r="24" fill="#A3141F"/><circle cx="260" cy="650" r="9" fill="#C94A52"/>
<ellipse cx="94" cy="752" rx="13" ry="24" transform="rotate(-15 94 752)" fill="#E2A19E"/>
<path d="M130 745 L40 665 M135 740 L70 640 M140 760 L60 700 M150 770 L260 800 M150 780 L300 860 M160 775 L230 760" stroke="#D5CDC9" stroke-width="2.5" fill="none" opacity="0.8"/>
<!-- capsules -->
<g fill="#E3CE82" stroke="#D3BB68" stroke-width="4">
<rect x="1090" y="654" width="90" height="42" rx="20"/>
<rect x="1055" y="739" width="86" height="42" rx="20" transform="rotate(50 1098 760)"/>
<rect x="1146" y="734" width="86" height="42" rx="20" transform="rotate(-62 1189 755)"/>
</g>
<!-- beam -->
<path d="M1332 402 L1520 630 L1370 748 L1165 528Z" fill="url(#beam)"/>
<!-- probe cable -->
<linearGradient id="cabfade" gradientUnits="userSpaceOnUse" x1="2318" y1="0" x2="2395" y2="0"><stop offset="0" stop-color="#fff"/><stop offset="0.55" stop-color="#888"/><stop offset="1" stop-color="#000"/></linearGradient><mask id="cabmask" maskUnits="userSpaceOnUse" x="1900" y="-100" width="520" height="360"><rect x="1900" y="-100" width="520" height="360" fill="url(#cabfade)"/></mask><g mask="url(#cabmask)">
<path d="M1997.2 75.2 L2000.2 73.7 L2004.1 71.7 L2008.5 69.5 L2013.4 67.0 L2018.7 64.3 L2024.3 61.5 L2030.0 58.7 L2035.9 55.9 L2041.6 53.2 L2047.2 50.6 L2052.5 48.4 L2057.4 46.4 L2062.2 44.6 L2067.0 42.8 L2071.8 41.1 L2076.4 39.5 L2081.0 38.0 L2085.6 36.6 L2090.0 35.3 L2094.4 34.1 L2098.8 33.1 L2103.2 32.1 L2107.5 31.3 L2111.8 30.7 L2116.3 30.1 L2120.8 29.6 L2125.5 29.2 L2130.2 28.9 L2135.0 28.7 L2139.8 28.6 L2144.6 28.5 L2149.4 28.6 L2154.1 28.8 L2158.7 29.1 L2163.3 29.4 L2167.7 29.9 L2171.9 30.4 L2176.1 31.1 L2180.3 31.9 L2184.5 32.7 L2188.7 33.7 L2192.8 34.8 L2197.0 36.0 L2201.1 37.2 L2205.2 38.5 L2209.3 39.8 L2213.4 41.2 L2217.3 42.6 L2221.1 44.0 L2224.7 45.4 L2228.3 46.9 L2231.8 48.4 L2235.3 50.0 L2238.7 51.6 L2242.1 53.3 L2245.4 55.1 L2248.8 56.9 L2252.1 58.8 L2255.4 60.7 L2258.5 62.6 L2261.6 64.5 L2264.5 66.5 L2267.4 68.5 L2270.3 70.7 L2273.2 72.9 L2276.1 75.2 L2278.9 77.5 L2281.8 79.9 L2284.7 82.3 L2287.7 84.8 L2290.6 87.3 L2293.6 89.8 L2296.5 92.3 L2299.4 94.7 L2302.2 97.1 L2305.0 99.5 L2307.7 101.9 L2310.4 104.3 L2313.1 106.7 L2315.8 109.2 L2318.4 111.7 L2321.1 114.3 L2323.7 117.0 L2326.4 119.8 L2329.1 122.7 L2331.9 125.7 L2334.7 128.9 L2337.5 132.1 L2340.3 135.5 L2343.1 138.8 L2345.9 142.2 L2348.6 145.6 L2351.3 149.0 L2353.9 152.4 L2356.4 155.7 L2358.7 158.9 L2360.9 162.1 L2363.2 165.5 L2365.4 169.0 L2367.7 172.7 L2369.9 176.4 L2372.0 180.1 L2374.1 183.6 L2376.0 187.0 L2377.8 190.1 L2379.3 192.9 L2380.8 195.4 L2381.9 197.3 L2408.1 182.7 L2407.1 180.8 L2405.9 178.5 L2404.4 175.6 L2402.7 172.4 L2400.9 168.9 L2399.0 165.2 L2396.9 161.2 L2394.7 157.2 L2392.4 153.1 L2390.1 149.0 L2387.7 145.0 L2385.3 141.1 L2382.9 137.4 L2380.5 133.7 L2378.0 129.9 L2375.4 126.0 L2372.8 122.2 L2370.1 118.3 L2367.4 114.5 L2364.6 110.7 L2361.9 106.9 L2359.1 103.3 L2356.3 99.7 L2353.6 96.2 L2350.9 92.8 L2348.1 89.6 L2345.4 86.4 L2342.7 83.2 L2340.0 80.2 L2337.2 77.2 L2334.5 74.3 L2331.7 71.4 L2328.9 68.5 L2326.1 65.7 L2323.3 62.9 L2320.4 60.2 L2317.5 57.4 L2314.6 54.7 L2311.7 51.9 L2308.7 49.1 L2305.6 46.4 L2302.4 43.6 L2299.2 40.8 L2295.8 38.1 L2292.4 35.3 L2288.8 32.6 L2285.2 30.0 L2281.5 27.4 L2277.8 24.9 L2274.1 22.6 L2270.3 20.2 L2266.5 17.9 L2262.6 15.6 L2258.6 13.4 L2254.5 11.2 L2250.3 9.1 L2246.0 7.0 L2241.7 5.1 L2237.2 3.2 L2232.7 1.4 L2228.2 -0.3 L2223.7 -1.9 L2219.0 -3.5 L2214.2 -5.1 L2209.3 -6.5 L2204.3 -7.9 L2199.2 -9.2 L2194.0 -10.4 L2188.7 -11.5 L2183.3 -12.5 L2177.8 -13.3 L2172.3 -13.9 L2166.8 -14.3 L2161.3 -14.7 L2155.7 -14.9 L2150.0 -15.0 L2144.3 -15.0 L2138.6 -14.8 L2132.8 -14.5 L2127.0 -14.1 L2121.3 -13.5 L2115.5 -12.7 L2109.8 -11.8 L2104.2 -10.7 L2098.6 -9.3 L2093.1 -7.8 L2087.7 -6.2 L2082.4 -4.3 L2077.3 -2.4 L2072.2 -0.3 L2067.2 1.8 L2062.2 4.1 L2057.3 6.4 L2052.5 8.7 L2047.6 11.1 L2042.6 13.6 L2037.3 16.3 L2031.6 19.4 L2025.8 22.7 L2020.0 26.1 L2014.2 29.5 L2008.5 33.0 L2003.0 36.3 L1997.9 39.5 L1993.2 42.4 L1989.0 45.0 L1985.6 47.2 L1982.8 48.8Z" fill="#CBCBCE"/><path d="M1992.4 66.4 L1995.4 64.9 L1999.1 62.9 L2003.5 60.6 L2008.3 58.1 L2013.6 55.3 L2019.2 52.4 L2025.0 49.4 L2030.9 46.5 L2036.7 43.6 L2042.4 41.0 L2047.8 38.5 L2052.9 36.4 L2057.8 34.4 L2062.6 32.5 L2067.4 30.7 L2072.2 28.9 L2076.9 27.3 L2081.6 25.7 L2086.3 24.3 L2090.9 22.9 L2095.6 21.7 L2100.3 20.6 L2104.9 19.7 L2109.6 18.9 L2114.4 18.2 L2119.3 17.6 L2124.3 17.2 L2129.3 16.8 L2134.4 16.6 L2139.5 16.5 L2144.5 16.5 L2149.5 16.6 L2154.5 16.8 L2159.4 17.1 L2164.3 17.5 L2169.0 17.9 L2173.5 18.5 L2178.0 19.2 L2182.6 20.1 L2187.0 21.0 L2191.5 22.1 L2195.9 23.2 L2200.3 24.4 L2204.7 25.7 L2209.0 27.1 L2213.2 28.5 L2217.4 29.9 L2221.5 31.4 L2225.5 32.8 L2229.3 34.3 L2233.1 35.9 L2236.9 37.5 L2240.6 39.2 L2244.2 41.0 L2247.8 42.8 L2251.4 44.6 L2254.9 46.5 L2258.3 48.5 L2261.7 50.5 L2265.1 52.5 L2268.3 54.6 L2271.5 56.8 L2274.6 59.0 L2277.6 61.3 L2280.7 63.7 L2283.6 66.1 L2286.6 68.6 L2289.5 71.1 L2292.5 73.6 L2295.4 76.2 L2298.4 78.7 L2301.3 81.3 L2304.2 83.9 L2307.1 86.4 L2309.9 88.9 L2312.7 91.4 L2315.4 93.9 L2318.2 96.5 L2320.9 99.0 L2323.6 101.7 L2326.3 104.4 L2328.9 107.1 L2331.6 110.0 L2334.3 112.9 L2337.1 116.0 L2339.8 119.2 L2342.7 122.5 L2345.5 125.8 L2348.3 129.3 L2351.1 132.8 L2353.8 136.3 L2356.6 139.8 L2359.2 143.3 L2361.8 146.8 L2364.2 150.3 L2366.6 153.6 L2368.9 157.0 L2371.2 160.6 L2373.5 164.3 L2375.7 168.1 L2378.0 171.9 L2380.1 175.6 L2382.1 179.2 L2384.0 182.6 L2385.7 185.8 L2387.3 188.6 L2388.6 191.0 L2389.8 192.9 L2400.2 187.1 L2399.2 185.2 L2397.9 182.8 L2396.4 180.0 L2394.7 176.8 L2392.9 173.3 L2390.9 169.6 L2388.8 165.8 L2386.6 161.8 L2384.4 157.9 L2382.1 153.9 L2379.7 150.1 L2377.4 146.4 L2375.1 142.8 L2372.6 139.2 L2370.1 135.5 L2367.5 131.8 L2364.9 128.1 L2362.2 124.3 L2359.4 120.6 L2356.7 117.0 L2353.9 113.4 L2351.1 109.8 L2348.4 106.4 L2345.7 103.1 L2343.0 99.9 L2340.3 96.8 L2337.6 93.7 L2334.9 90.8 L2332.2 87.9 L2329.5 85.0 L2326.7 82.2 L2324.0 79.5 L2321.2 76.8 L2318.4 74.1 L2315.6 71.4 L2312.7 68.7 L2309.8 66.0 L2306.9 63.3 L2304.0 60.7 L2301.0 58.0 L2297.9 55.3 L2294.9 52.7 L2291.7 50.0 L2288.5 47.4 L2285.2 44.9 L2281.9 42.3 L2278.4 39.9 L2274.9 37.5 L2271.4 35.1 L2267.8 32.8 L2264.2 30.6 L2260.6 28.4 L2256.8 26.2 L2253.0 24.0 L2249.1 22.0 L2245.2 19.9 L2241.1 18.0 L2237.0 16.1 L2232.8 14.3 L2228.5 12.6 L2224.2 11.0 L2219.8 9.4 L2215.3 7.9 L2210.7 6.4 L2206.0 5.0 L2201.2 3.7 L2196.3 2.4 L2191.4 1.3 L2186.4 0.3 L2181.3 -0.6 L2176.2 -1.4 L2171.0 -1.9 L2165.9 -2.4 L2160.6 -2.7 L2155.3 -2.9 L2149.9 -3.0 L2144.4 -2.9 L2138.9 -2.7 L2133.4 -2.4 L2127.9 -2.0 L2122.5 -1.4 L2117.0 -0.7 L2111.7 0.1 L2106.4 1.1 L2101.1 2.3 L2096.0 3.7 L2090.9 5.2 L2085.9 6.9 L2081.0 8.6 L2076.1 10.5 L2071.3 12.5 L2066.5 14.6 L2061.7 16.8 L2056.9 19.0 L2052.0 21.3 L2047.1 23.6 L2042.0 26.2 L2036.5 29.1 L2030.8 32.2 L2025.0 35.4 L2019.2 38.8 L2013.5 42.1 L2008.1 45.4 L2002.9 48.5 L1998.2 51.3 L1994.0 53.8 L1990.4 56.0 L1987.6 57.6Z" fill="#E6E6E8"/>
</g>
<!-- strain relief -->
<path d="M1808 148 C1875 116 1945 75 1998 37 L2018 70 C1957 110 1910 174 1861 227Z" fill="#D9D9DB" stroke="#BDBDC0" stroke-width="3"/>
<path d="M1822 160 C1885 128 1950 88 2002 50 L2008 60 C1950 100 1890 150 1840 195Z" fill="#C9C9CC"/>
<path d="M1985 45 L2008 80" stroke="#B5B5B8" stroke-width="3"/>
<!-- probe body -->
<path d="M1808 152 C1700 190 1600 250 1520 310 C1470 340 1420 335 1384 344 L1582 592 C1600 540 1640 480 1690 440 C1780 370 1850 300 1866 230 C1862 198 1842 172 1808 152Z" fill="#E6E6E8" stroke="#BEBEC1" stroke-width="5"/>
<path d="M1400 372 C1470 348 1520 332 1570 292 C1620 252 1690 232 1728 250 C1752 292 1740 332 1700 382 C1650 442 1600 472 1572 552Z" fill="#DDDDDF" stroke="#C4C4C7" stroke-width="3"/>
<path d="M1808 152 C1700 190 1600 250 1520 310 C1470 340 1420 335 1384 344 L1400 366 C1440 352 1490 352 1540 322 C1620 268 1700 215 1800 182Z" fill="#C6C6C9"/>
<path d="M1690 250 C1730 262 1745 300 1720 340" fill="none" stroke="#C9C9CC" stroke-width="4"/>
<path d="M1465 385 C1480 440 1520 480 1570 500 M1520 365 C1535 410 1565 440 1600 455 M1572 348 C1582 375 1600 395 1622 405" fill="none" stroke="#B9B9BC" stroke-width="5" stroke-linecap="round"/>
<circle cx="1752" cy="255" r="27" fill="#4F97C4"/>
<!-- probe head -->
<path d="M1326 398 Q1330 385 1345 375 L1384 344 L1582 592 L1535 628 Q1515 640 1500 622Z" fill="#5A93BC"/>
<path d="M1326 398 Q1330 385 1345 375 L1384 344 L1582 592 L1535 628 Q1515 640 1500 622Z" fill="none" stroke="#3F79A7" stroke-width="4"/><path d="M1506 618 Q1518 632 1535 622 L1578 590" fill="none" stroke="#8DB7D6" stroke-width="5"/>
<!-- syringe -->
<g transform="translate(330 90) rotate(38)">
<rect x="0" y="-12" width="255" height="24" fill="#D6D6D9"/><rect x="0" y="-12" width="255" height="8" fill="#E8E8EA"/>
<ellipse cx="0" cy="0" rx="13" ry="38" fill="#B3B3B6"/>
<ellipse cx="246" cy="0" rx="17" ry="68" fill="#A6A6A9"/><ellipse cx="254" cy="0" rx="12" ry="56" fill="#BDBDC0"/>
<rect x="262" y="-33" width="160" height="66" fill="#D2D2D5"/><rect x="262" y="-33" width="160" height="20" fill="#E6E6E8"/><rect x="262" y="24" width="160" height="9" fill="#ABABAE"/>
<rect x="418" y="-33" width="50" height="66" fill="#3D3D3F"/>
<rect x="466" y="-33" width="200" height="66" fill="#B3311F"/><rect x="466" y="-33" width="200" height="9" fill="#8A8A8C"/><rect x="466" y="-27" width="200" height="8" fill="#C24A36"/><rect x="466" y="22" width="200" height="11" fill="#8E1D12"/>
<path d="M505 -6 L640 -6" stroke="#DB8878" stroke-width="3"/>
<path d="M666 -33 L690 -26 L690 26 L666 33Z" fill="#96200F"/>
<rect x="690" y="-13" width="22" height="26" fill="#C0392B"/>
<path d="M712 -13 L775 -5 L775 5 L712 13Z" fill="#3AA89B"/>
<path d="M775 0 L905 0" stroke="#4A4A4A" stroke-width="4"/>
</g>
</g>
</g>
<!-- 70_liver.svg -->
<g id="liver" transform="translate(10 1380) scale(0.19845)">
<!-- back-left tail lobe -->
<path d="M260 600 C180 740 110 900 75 1060 C70 1120 95 1160 120 1150 C170 1100 220 1010 270 930 C300 800 290 680 260 600Z" fill="#9A6056"/>
<path d="M180 830 C150 900 120 1000 105 1090 C140 1040 200 950 240 870Z" fill="#A76E62"/>
<!-- main silhouette -->
<path d="M1000 135 C880 140 720 190 600 230 C500 270 430 320 390 370 C320 450 260 560 225 680 C215 760 230 850 265 930 C300 1000 330 1050 370 1075 C440 1090 560 1060 700 1018 C770 1010 830 1050 870 1110 C900 1170 940 1230 1020 1280 C1120 1330 1250 1345 1360 1332 C1460 1310 1560 1260 1660 1215 C1740 1180 1820 1170 1850 1140 C1890 1090 1890 1010 1870 940 C1840 840 1760 730 1680 640 C1620 570 1560 500 1510 430 C1450 340 1380 260 1290 200 C1240 170 1190 155 1150 160 C1140 165 1135 175 1130 182 C1110 150 1060 135 1000 135Z" fill="#A4695D"/>
<!-- creases (darker) -->
<path d="M1130 182 C1160 260 1150 340 1125 400 L1190 470 C1215 380 1225 270 1205 180 C1185 160 1150 160 1130 182Z" fill="#935850"/>
<path d="M1160 760 C1250 830 1330 870 1420 850 C1520 810 1580 700 1560 560 C1550 520 1535 490 1515 470 C1600 560 1620 700 1560 790 C1500 870 1380 900 1290 880 C1200 850 1100 800 1010 800 C930 820 860 880 820 960 C780 1000 740 1010 700 1018 C770 1010 830 1050 870 1110 C850 1040 860 960 920 900 C990 840 1080 810 1160 830Z" fill="#935850"/>
<path d="M225 680 C215 760 230 850 265 930 C300 1000 330 1050 370 1075 C320 1000 280 900 270 800 C265 740 275 680 290 630Z" fill="#935850" opacity="0.7"/>
<!-- highlights -->
<path d="M1040 185 C1070 210 1085 260 1080 320 C1060 290 1050 230 1040 185Z" fill="#C08A80" opacity="0.8"/>
<path d="M1515 520 C1535 540 1540 580 1530 610 C1515 590 1510 550 1515 520Z" fill="#C08A80" opacity="0.8"/>
<path d="M1005 1185 C1040 1230 1110 1255 1180 1250 C1120 1265 1040 1250 1005 1185Z" fill="#C08A80" opacity="0.8"/>
<!-- tumour -->
<g fill="#E3A69E">
<circle cx="910" cy="565" r="225"/>
<circle cx="760" cy="440" r="70"/><circle cx="850" cy="380" r="65"/><circle cx="960" cy="385" r="65"/><circle cx="1060" cy="430" r="65"/><circle cx="1110" cy="520" r="60"/><circle cx="1110" cy="620" r="62"/><circle cx="1060" cy="710" r="65"/><circle cx="960" cy="750" r="62"/><circle cx="850" cy="745" r="65"/><circle cx="750" cy="690" r="65"/><circle cx="715" cy="580" r="65"/>
</g>
<g fill="#ECB9B2" opacity="0.8"><circle cx="850" cy="380" r="40"/><circle cx="1055" cy="440" r="40"/><circle cx="1100" cy="610" r="38"/><circle cx="960" cy="745" r="38"/><circle cx="760" cy="680" r="40"/><circle cx="725" cy="560" r="38"/><circle cx="770" cy="450" r="40"/><circle cx="960" cy="395" r="36"/><circle cx="1050" cy="700" r="38"/><circle cx="850" cy="740" r="36"/></g>
<path d="M800 450 C830 400 880 470 905 470 C930 440 970 400 1010 440 C1070 460 1060 520 1045 560 C1060 610 1010 640 990 680 C950 700 930 680 905 690 C870 720 810 710 795 670 C760 640 760 590 755 540 C760 500 780 470 800 450Z" fill="#C9686A"/>
<path d="M815 480 C840 430 885 500 905 495 C930 470 970 430 1000 465 C1045 485 1040 530 1025 560 C1040 600 1000 625 980 660 C950 680 925 660 905 670 C875 695 825 690 812 655 C780 630 785 590 775 545 C780 515 795 495 815 480Z" fill="#7E3A40"/>
<path d="M830 510 C860 480 890 520 910 515 C940 490 980 480 1000 510 C1030 540 1000 570 1010 590 C1000 620 960 630 950 650 C920 640 900 650 880 660 C850 670 830 640 820 620 C790 600 800 560 790 545 C800 520 815 515 830 510Z" fill="#45171C"/>
</g>
<!-- 80_person.svg -->
<g id="person" transform="translate(2320 420) scale(0.19185)">
<!-- legs -->
<path d="M270 1080 L368 1080 L362 1300 L285 1305Z" fill="#6B6B6E"/>
<path d="M418 1080 L512 1080 L500 1285 L425 1282Z" fill="#5C5C5F"/>
<!-- shoes -->
<path d="M290 1300 L345 1300 C348 1340 335 1400 310 1420 C285 1425 265 1400 270 1375 C280 1345 288 1320 290 1300Z" fill="#505053"/>
<path d="M428 1278 L490 1280 C530 1295 585 1310 590 1332 C585 1352 530 1352 490 1340 C460 1332 430 1330 424 1318Z" fill="#454547"/>
<!-- hair back -->
<path d="M410 90 C340 95 320 170 335 220 C355 250 350 270 330 285 C305 310 320 345 335 385 C345 340 365 310 360 270 C375 240 365 215 355 200 L480 220 C505 180 500 95 410 90Z" fill="#8A6A5B"/>
<!-- face -->
<path d="M352 200 C360 150 395 135 435 120 C470 150 480 200 470 235 C462 265 450 280 440 300 L375 300 C365 270 350 240 352 200Z" fill="#FDF3F3"/>
<path d="M375 290 L450 290 L470 340 L360 340Z" fill="#FDF3F3"/>
<!-- shirt -->
<path d="M383 336 L466 336 L442 452Z" fill="#7A7A7A"/>
<!-- coat -->
<path d="M360 300 L383 336 L440 455 L466 336 L455 290 C500 310 560 330 585 350 C605 420 612 600 600 700 C595 760 580 800 575 850 L575 1070 C500 1095 330 1095 235 1070 C232 950 250 800 255 660 C230 665 190 660 170 630 C160 600 175 570 195 555 C200 480 210 390 240 345 C280 320 330 310 360 300Z" fill="#FFFFFF"/>
<path d="M348 250 C322 280 305 320 320 352 C326 366 330 378 334 390 C345 346 364 316 358 270Z" fill="#8A6A5B"/>
<!-- glove + pipette -->
<path d="M180 460 C195 445 210 455 215 465 L235 460 C255 480 275 510 270 535 C255 560 235 580 215 575 C195 565 190 530 188 500 C180 485 172 472 180 460Z" fill="#6FB48E"/>
<path d="M262 525 L335 590" stroke="#5D6B7A" stroke-width="7" stroke-linecap="round"/>
<path d="M262 522 L282 540" stroke="#2F6EB5" stroke-width="10" stroke-linecap="round"/>
<path d="M565 770 C580 765 590 775 588 800 C586 825 578 840 568 840 C562 815 562 790 565 770Z" fill="#6FB48E"/>
</g>
<!-- 81_microscope.svg -->
<g id="microscope" transform="translate(2250 730) scale(0.13226)">
<!-- double arrow -->
<path d="M845 262 C1040 80 1360 75 1560 262" fill="none" stroke="#560B0B" stroke-width="58"/>
<path d="M737 394 L815 178 L962 336Z" fill="#560B0B"/>
<path d="M1662 401 L1607 178 L1445 322Z" fill="#560B0B"/>
<!-- arm -->
<path d="M1815 600 C1900 610 1960 660 1990 760 C2030 900 2005 1060 1880 1165 L1835 1095 C1800 1075 1760 1085 1745 1130 L1720 1275 L1618 1232 L1690 1025 L1830 1062 C1880 1010 1910 930 1895 870 C1850 840 1790 830 1760 795 C1760 760 1790 745 1830 740 C1860 700 1850 640 1815 600Z" fill="#36627E"/>
<!-- stand -->
<path d="M1750 1335 L1750 1140 C1752 1085 1825 1080 1840 1135 L1940 1335Z" fill="#36627E" stroke="#EAF4D9" stroke-width="10"/>
<rect x="1424" y="1322" width="588" height="80" rx="14" fill="#36627E"/>
<!-- stage bars -->
<path d="M1450 895 L1780 1005" stroke="#36627E" stroke-width="42" stroke-linecap="round"/>
<path d="M1440 1045 L1635 1102" stroke="#36627E" stroke-width="36" stroke-linecap="round"/>
<!-- tube -->
<path d="M1800 290 L1870 315 L1838 462 L1830 530 L1748 790 L1715 835 L1682 912 L1596 880 L1612 790 L1700 540 L1716 462Z" fill="#2F97D4"/>
<path d="M1612 790 L1748 838" stroke="#EAF4D9" stroke-width="8"/>
<circle cx="1785" cy="685" r="68" fill="#EAF4D9"/><circle cx="1785" cy="685" r="52" fill="#36627E"/>
</g>
<!-- 82_dollar.svg -->
<g id="dollar">
<rect x="2346" y="1027" width="93" height="153.3" fill="#FFFFFF"/>
<clipPath id="dclip"><rect x="2346" y="1027" width="93" height="153.3"/></clipPath><g clip-path="url(#dclip)"><g transform="translate(2348.5 1027) scale(0.295 0.3109)">
<g fill="none" stroke="#14601C">
<path d="M268 150 C240 100 190 70 140 80 C80 95 50 140 65 190 C85 250 260 260 270 340 C280 400 220 440 160 435 C100 430 40 400 22 335" stroke-width="62" transform="translate(7 6)"/>
</g>
<path d="M135 5 L135 490 M200 5 L200 490" stroke="#14601C" stroke-width="22" transform="translate(6 4)"/>
<path d="M268 150 C240 100 190 70 140 80 C80 95 50 140 65 190 C85 250 260 260 270 340 C280 400 220 440 160 435 C100 430 40 400 22 335" fill="none" stroke="#1E8527" stroke-width="62"/>
<path d="M130 0 L130 490 M195 0 L195 490" stroke="#1E8527" stroke-width="22"/>
</g>
</g>
</g>
<!-- 83_recycle.svg -->
<g id="recycle">
<defs>
<linearGradient id="rcbg" x1="0" y1="0" x2="1" y2="1"><stop offset="0" stop-color="#D6D6D4"/><stop offset="0.5" stop-color="#DEDEDC"/><stop offset="1" stop-color="#E4E4E2"/></linearGradient>
<pattern id="rcpat" width="26" height="26" patternUnits="userSpaceOnUse" patternTransform="rotate(-32)"><rect width="26" height="26" fill="none"/><rect y="0" width="26" height="9" fill="#C9C9C7" opacity="0.45"/></pattern>
<filter id="rcsh" x="-20%" y="-20%" width="140%" height="140%"><feGaussianBlur stdDeviation="13"/></filter>
<filter id="rcblur" x="-5%" y="-5%" width="110%" height="110%"><feGaussianBlur stdDeviation="1.6"/></filter>
</defs>
<g transform="translate(2310 1280) scale(0.1243)">
<rect x="78" y="65" width="1470" height="1380" fill="url(#rcbg)"/>
<rect x="78" y="65" width="1470" height="1380" fill="url(#rcpat)"/>
<clipPath id="rcclip"><rect x="78" y="65" width="1470" height="1380"/></clipPath><g clip-path="url(#rcclip)"><g id="rcshapes" fill="#2C400C" opacity="0.85" filter="url(#rcsh)" transform="translate(-30 26)">
<path d="M360 400 L470 190 Q520 110 620 105 L1010 105 Q1120 110 1180 200 L1245 315 L1320 285 L1170 540 L875 525 L950 465 L790 260 L620 555Z"/>
<path d="M130 575 L465 575 L610 835 L530 810 L420 1005 L780 1020 L780 1330 L470 1335 Q380 1330 340 1250 L150 900 Q120 840 150 780 L215 640Z"/>
<path d="M1385 560 L1520 770 Q1560 850 1530 940 L1370 1240 Q1320 1320 1230 1330 L1040 1345 L1035 1440 L895 1185 L1020 930 L1030 1015 L1290 995 L1140 705Z"/>
</g></g>
<g filter="url(#rcblur)">
<g fill="#7FB61A">
<path d="M360 400 L470 190 Q520 110 620 105 L1010 105 Q1120 110 1180 200 L1245 315 L1320 285 L1170 540 L875 525 L950 465 L790 260 L620 555Z"/>
<path d="M130 575 L465 575 L610 835 L530 810 L420 1005 L780 1020 L780 1330 L470 1335 Q380 1330 340 1250 L150 900 Q120 840 150 780 L215 640Z"/>
<path d="M1385 560 L1520 770 Q1560 850 1530 940 L1370 1240 Q1320 1320 1230 1330 L1040 1345 L1035 1440 L895 1185 L1020 930 L1030 1015 L1290 995 L1140 705Z"/>
</g>
<!-- darker faces -->
<path d="M360 400 L470 190 Q520 110 620 105 L660 108 Q740 130 775 230 L790 262 L620 555Z" fill="#6FA516"/>
<path d="M660 108 Q745 125 790 262" fill="none" stroke="#4F7F10" stroke-width="8" opacity="0.6"/>
<path d="M420 1005 L780 1020 L780 1330 L470 1335 Q380 1330 340 1250 Q360 1100 420 1005Z" fill="#86BE1C"/>
<path d="M420 1005 Q350 1100 340 1250" fill="none" stroke="#A6D930" stroke-width="10"/>
<path d="M1290 995 L1530 940 L1370 1240 Q1320 1320 1230 1330 L1040 1345 L1035 1440 L895 1185 L1020 930 L1030 1015Z" fill="#88C01C"/>
<path d="M1290 995 L1530 940" fill="none" stroke="#A6D930" stroke-width="9"/>
</g>
</g>
</g>
<!-- 85_rats.svg -->
<g id="rats" transform="translate(2270 1530) scale(0.20496)">
<!-- white rat -->
<path d="M467.3 429.1 L463.1 429.6 L457.7 430.2 L451.3 430.8 L444.0 431.6 L436.0 432.4 L427.5 433.3 L418.7 434.3 L409.8 435.3 L400.9 436.5 L392.1 437.7 L383.6 439.0 L375.7 440.4 L368.4 441.8 L361.4 443.2 L354.6 444.7 L347.8 446.3 L341.2 448.0 L334.6 449.7 L328.0 451.5 L321.3 453.4 L314.5 455.4 L307.6 457.5 L300.4 459.7 L293.0 462.0 L285.3 464.5 L277.3 467.0 L268.9 469.6 L260.3 472.4 L251.5 475.3 L242.5 478.3 L233.6 481.4 L224.6 484.7 L215.7 488.1 L207.0 491.6 L198.4 495.3 L190.3 499.2 L182.4 503.1 L174.6 507.2 L166.8 511.5 L159.2 515.8 L151.7 520.3 L144.4 525.0 L137.2 529.7 L130.3 534.5 L123.7 539.4 L117.4 544.4 L111.4 549.4 L105.9 554.4 L100.7 559.5 L95.9 564.7 L91.3 570.0 L86.9 575.4 L82.9 580.9 L79.2 586.5 L75.8 592.3 L72.8 598.1 L70.3 604.2 L68.3 610.4 L66.9 616.7 L66.1 623.2 L66.1 629.8 L66.8 636.2 L68.1 642.5 L70.0 648.5 L72.5 654.2 L75.3 659.8 L78.6 665.0 L82.3 670.1 L86.2 674.8 L90.5 679.3 L95.1 683.5 L100.0 687.5 L105.4 691.2 L111.1 694.5 L117.1 697.4 L123.2 700.0 L129.6 702.4 L136.1 704.5 L142.7 706.5 L149.4 708.4 L156.2 710.1 L163.0 711.8 L169.8 713.4 L176.6 715.1 L183.7 716.7 L191.0 718.2 L198.5 719.6 L206.2 720.9 L213.9 722.1 L221.7 723.2 L229.6 724.3 L237.5 725.3 L245.3 726.2 L253.1 727.2 L260.8 728.0 L268.5 728.9 L276.1 729.7 L283.9 730.5 L291.7 731.1 L299.6 731.8 L307.5 732.4 L315.3 732.9 L323.0 733.4 L330.6 733.9 L338.1 734.3 L345.4 734.7 L352.5 735.1 L359.3 735.5 L366.0 735.8 L372.7 736.1 L379.3 736.3 L385.8 736.6 L392.1 736.7 L398.2 736.9 L404.2 737.0 L409.9 737.1 L415.3 737.2 L420.5 737.3 L425.3 737.4 L429.7 737.5 L433.8 737.6 L437.6 737.6 L441.2 737.6 L444.4 737.6 L447.4 737.6 L450.2 737.6 L452.7 737.6 L454.9 737.6 L457.0 737.5 L458.8 737.5 L460.4 737.5 L461.8 737.5 L462.2 732.5 L460.7 732.3 L459.1 732.1 L457.3 731.9 L455.3 731.6 L453.0 731.3 L450.6 731.0 L447.9 730.7 L444.9 730.3 L441.7 729.9 L438.2 729.5 L434.4 729.0 L430.3 728.5 L425.9 728.0 L421.1 727.5 L416.0 726.9 L410.6 726.3 L404.9 725.7 L399.0 725.1 L392.9 724.4 L386.7 723.7 L380.3 723.0 L373.8 722.2 L367.3 721.4 L360.7 720.5 L353.9 719.6 L346.9 718.7 L339.7 717.7 L332.3 716.6 L324.8 715.6 L317.2 714.5 L309.6 713.3 L301.9 712.1 L294.2 710.9 L286.6 709.7 L279.0 708.4 L271.5 707.1 L264.0 705.8 L256.4 704.5 L248.7 703.1 L241.0 701.7 L233.4 700.4 L225.8 698.9 L218.3 697.4 L210.9 695.9 L203.7 694.3 L196.7 692.6 L189.9 690.8 L183.4 688.9 L176.9 687.0 L170.3 685.0 L163.9 683.0 L157.6 681.0 L151.6 678.9 L145.8 676.7 L140.3 674.5 L135.3 672.2 L130.7 669.9 L126.6 667.5 L123.0 665.0 L120.0 662.5 L117.2 659.8 L114.5 656.8 L112.1 653.6 L110.0 650.4 L108.1 647.1 L106.5 643.7 L105.3 640.5 L104.4 637.3 L103.8 634.3 L103.6 631.6 L103.6 629.0 L103.9 626.8 L104.5 624.4 L105.4 621.8 L106.6 618.8 L108.3 615.6 L110.3 612.1 L112.7 608.5 L115.5 604.8 L118.6 600.9 L122.1 597.1 L125.9 593.2 L129.9 589.3 L134.1 585.6 L138.6 581.8 L143.6 578.1 L149.0 574.2 L154.9 570.3 L161.0 566.4 L167.5 562.5 L174.2 558.7 L181.2 554.9 L188.2 551.2 L195.4 547.6 L202.6 544.1 L209.7 540.8 L216.9 537.7 L224.5 534.6 L232.4 531.6 L240.6 528.7 L249.0 525.8 L257.5 523.0 L266.0 520.2 L274.5 517.6 L283.0 515.1 L291.2 512.6 L299.3 510.2 L307.0 508.0 L314.3 505.8 L321.2 503.9 L327.8 502.0 L334.3 500.3 L340.5 498.7 L346.7 497.2 L352.7 495.8 L358.8 494.4 L365.0 493.1 L371.2 491.9 L377.7 490.8 L384.3 489.6 L391.2 488.6 L398.8 487.6 L407.0 486.7 L415.4 485.8 L424.0 484.9 L432.5 484.2 L440.8 483.5 L448.6 482.9 L455.9 482.3 L462.5 481.8 L468.2 481.3 L472.7 480.9Z" fill="#E59C95"/>
<g fill="#EDA9A3" stroke="#DE8F89" stroke-width="4">
<path d="M530 615 C540 590 600 585 640 600 L640 640 C620 650 610 670 600 675 C590 660 585 650 575 665 C565 650 560 640 548 655 C540 640 530 630 530 615Z"/>
<path d="M650 720 C660 700 700 690 745 695 L740 740 C730 755 725 765 715 770 C710 755 705 750 695 765 C685 750 680 745 670 755 C660 745 650 735 650 720Z"/>
<path d="M985 665 C1010 660 1040 670 1060 680 C1080 690 1090 700 1090 712 C1075 710 1070 715 1065 728 C1055 715 1045 715 1038 735 C1028 718 1018 720 1008 738 C1000 715 985 690 985 665Z"/>
</g>
<path d="M455 300 C470 180 600 90 760 85 C880 90 950 160 975 240 C1040 300 1070 420 1055 520 C1050 600 1020 640 980 650 L760 640 C700 650 600 620 540 580 C470 520 450 400 455 300Z" fill="#D8CFCA"/>
<path d="M462 300 C477 185 605 97 760 92 C875 97 945 165 968 245 C1030 305 1060 420 1046 515 C1040 590 1015 625 975 635 L760 625 C700 635 605 608 548 570 C480 515 457 400 462 300Z" fill="#E9E5E3"/>
<path d="M470 430 C480 520 540 580 640 610 C600 560 580 500 590 440 C560 470 520 470 470 430Z" fill="#DDD5D1"/>
<!-- legs -->
<path d="M640 380 C600 500 640 640 688 702 L748 700 C748 600 740 480 722 420Z" fill="#EEEAE8" stroke="#D9D0CB" stroke-width="3"/>
<path d="M985 500 C1005 570 1000 630 985 672 L1042 672 C1062 600 1052 520 1030 450Z" fill="#EEEAE8" stroke="#D9D0CB" stroke-width="3"/>
<!-- ears -->
<ellipse cx="715" cy="275" rx="42" ry="76" transform="rotate(-8 715 275)" fill="#EADFDC"/>
<ellipse cx="712" cy="280" rx="32" ry="64" transform="rotate(-8 712 280)" fill="#E69A97"/>
<ellipse cx="992" cy="282" rx="42" ry="76" transform="rotate(16 992 282)" fill="#EADFDC"/>
<ellipse cx="996" cy="286" rx="32" ry="64" transform="rotate(16 996 286)" fill="#E69A97"/>
<!-- head -->
<path d="M715 385 C735 320 795 285 860 285 C920 290 962 330 988 392 C1012 470 985 560 905 600 C862 618 832 618 790 600 C715 560 695 462 715 385Z" fill="#F0EDEB"/>
<path d="M760 560 C800 600 900 600 945 560 C920 590 880 605 850 605 C815 605 780 590 760 560Z" fill="#D9D0CB"/>
<circle cx="780" cy="432" r="20" fill="#B0101E"/><circle cx="922" cy="435" r="20" fill="#B0101E"/><circle cx="786" cy="427" r="6" fill="#E06A72"/><circle cx="928" cy="430" r="6" fill="#E06A72"/>
<path d="M818 520 C835 512 868 512 884 520 C880 550 862 572 850 572 C838 572 822 550 818 520Z" fill="#E8A5A7"/>
<path d="M800 520 L720 490 M800 535 L730 550 M900 520 L990 480 M900 535 L975 555" stroke="#D8D0CC" stroke-width="3" fill="none"/>
<!-- black mouse -->
<path d="M985.9 1091.6 L989.2 1089.8 L993.4 1087.6 L998.2 1085.0 L1003.6 1082.1 L1009.4 1078.9 L1015.6 1075.6 L1022.1 1072.1 L1028.7 1068.6 L1035.4 1065.1 L1042.1 1061.8 L1048.5 1058.5 L1054.8 1055.5 L1061.0 1052.5 L1067.4 1049.4 L1074.0 1046.3 L1080.6 1043.2 L1087.3 1040.1 L1094.1 1037.1 L1100.8 1034.1 L1107.5 1031.2 L1114.1 1028.4 L1120.5 1025.7 L1126.9 1023.3 L1133.0 1021.0 L1139.1 1018.9 L1145.1 1016.9 L1151.1 1014.9 L1157.0 1013.1 L1162.8 1011.5 L1168.6 1009.9 L1174.3 1008.4 L1179.9 1007.1 L1185.4 1005.9 L1190.7 1004.8 L1196.0 1003.8 L1201.1 1002.9 L1206.2 1002.2 L1211.2 1001.5 L1216.2 1000.9 L1221.1 1000.4 L1225.8 1000.0 L1230.4 999.8 L1234.9 999.7 L1239.0 999.8 L1243.0 1000.0 L1246.6 1000.4 L1250.0 1001.0 L1252.9 1001.7 L1255.7 1002.6 L1258.4 1003.7 L1260.9 1005.0 L1263.2 1006.4 L1265.3 1007.9 L1267.2 1009.5 L1268.8 1011.2 L1270.2 1013.0 L1271.4 1014.9 L1272.4 1016.8 L1273.1 1018.8 L1273.6 1020.9 L1273.8 1023.2 L1273.8 1026.0 L1273.6 1029.2 L1273.0 1032.6 L1272.2 1036.2 L1271.2 1040.0 L1269.9 1043.8 L1268.4 1047.6 L1266.7 1051.4 L1264.8 1055.0 L1262.8 1058.5 L1260.6 1061.7 L1258.2 1064.6 L1255.4 1067.6 L1252.2 1070.5 L1248.6 1073.4 L1244.8 1076.3 L1240.8 1079.1 L1236.6 1081.9 L1232.5 1084.8 L1228.4 1087.6 L1224.3 1090.4 L1220.5 1093.2 L1216.9 1096.1 L1213.5 1099.0 L1210.1 1101.9 L1206.6 1104.9 L1203.3 1107.9 L1200.0 1110.9 L1196.8 1113.8 L1193.7 1116.6 L1190.9 1119.2 L1188.3 1121.6 L1186.0 1123.7 L1184.0 1125.5 L1182.4 1127.0 L1187.6 1133.0 L1189.3 1131.6 L1191.4 1129.9 L1193.8 1127.9 L1196.5 1125.6 L1199.5 1123.2 L1202.6 1120.6 L1205.9 1117.8 L1209.3 1115.0 L1212.8 1112.2 L1216.3 1109.4 L1219.8 1106.6 L1223.1 1103.9 L1226.5 1101.3 L1230.2 1098.7 L1234.1 1096.1 L1238.3 1093.4 L1242.5 1090.6 L1246.7 1087.8 L1251.0 1084.8 L1255.1 1081.8 L1259.1 1078.7 L1262.8 1075.4 L1266.3 1071.9 L1269.4 1068.3 L1272.1 1064.6 L1274.6 1060.7 L1276.9 1056.6 L1279.0 1052.4 L1280.9 1048.1 L1282.6 1043.8 L1284.0 1039.5 L1285.1 1035.2 L1286.0 1031.0 L1286.5 1026.9 L1286.7 1022.9 L1286.4 1019.1 L1285.7 1015.4 L1284.6 1011.9 L1283.1 1008.6 L1281.3 1005.5 L1279.1 1002.6 L1276.6 999.9 L1273.9 997.4 L1270.9 995.1 L1267.7 993.1 L1264.3 991.3 L1260.8 989.7 L1257.1 988.3 L1253.1 987.2 L1248.9 986.3 L1244.4 985.7 L1239.8 985.3 L1235.1 985.0 L1230.2 984.9 L1225.2 985.0 L1220.0 985.2 L1214.8 985.5 L1209.5 986.0 L1204.2 986.5 L1198.9 987.1 L1193.5 987.8 L1187.9 988.6 L1182.2 989.5 L1176.4 990.6 L1170.5 991.7 L1164.5 993.0 L1158.4 994.4 L1152.3 995.9 L1146.0 997.5 L1139.7 999.2 L1133.4 1001.1 L1127.0 1003.0 L1120.4 1005.1 L1113.7 1007.4 L1106.9 1009.8 L1099.9 1012.3 L1092.9 1015.0 L1085.9 1017.7 L1078.9 1020.5 L1072.0 1023.3 L1065.1 1026.2 L1058.3 1029.0 L1051.7 1031.8 L1045.2 1034.5 L1038.6 1037.4 L1031.8 1040.5 L1024.9 1043.7 L1017.9 1047.0 L1011.1 1050.3 L1004.4 1053.5 L998.0 1056.7 L992.0 1059.6 L986.5 1062.3 L981.6 1064.8 L977.5 1066.8 L974.1 1068.4Z" fill="#C4948E"/>
<ellipse cx="1003" cy="1186" rx="36" ry="15" transform="rotate(15 1003 1186)" fill="#C9A09B"/>
<path d="M555 1280 L605 1288 L598 1352 C610 1365 605 1385 590 1390 C570 1385 550 1395 520 1385 C505 1372 520 1360 555 1348Z" fill="#C9A09B"/>
<path d="M805 1340 L862 1340 L852 1412 C880 1420 895 1435 890 1445 C860 1440 830 1455 795 1450 C785 1435 800 1420 815 1414Z" fill="#C9A09B"/>
<path d="M455 955 C470 890 510 850 548 822 C558 860 565 900 572 935Z" fill="#4B4745"/>
<path d="M462 945 C478 895 508 868 540 845 C538 870 528 900 515 925Z" fill="#C39893"/>
<path d="M385 1030 C400 980 470 940 560 925 C640 935 700 960 740 950 C820 930 900 950 950 1010 C1000 1080 1000 1180 960 1240 C920 1290 880 1300 868 1345 L800 1350 C790 1310 760 1290 700 1285 C650 1280 610 1285 595 1292 L545 1285 C520 1230 470 1170 440 1120 C400 1090 380 1060 385 1030Z" fill="#4B4745"/>
<path d="M700 1080 C760 1000 880 980 940 1040 C980 1100 970 1200 920 1250 C880 1280 840 1270 820 1230 C800 1160 760 1110 700 1080Z" fill="#55504E"/>
<path d="M440 1120 C470 1170 520 1230 545 1285 L600 1290 C560 1240 520 1160 480 1110Z" fill="#3E3A39"/>
<circle cx="735" cy="935" r="84" fill="#4B4745"/>
<circle cx="738" cy="938" r="76" fill="#C9A09B"/>
<path d="M700 900 C740 890 780 920 775 970 C770 1010 740 1030 715 1025 C700 990 690 940 700 900Z" fill="#B88C87"/>
<ellipse cx="572" cy="992" rx="28" ry="20" transform="rotate(15 572 992)" fill="#161616"/><circle cx="566" cy="986" r="5" fill="#666"/>
<ellipse cx="412" cy="1016" rx="21" ry="19" fill="#D9A3A3"/>
<path d="M395 1010 L330 990 M395 1020 L335 1025 M398 1030 L345 1050" stroke="#D6D0CC" stroke-width="3" fill="none"/>
</g>
</svg>
<div class="t b" style="left:237.62px;top:9.29px;font-size:54px;color:#000;transform:scaleX(1.1282)">Integrating</div>
<div class="t b" style="left:569.3px;top:9.29px;font-size:54px;color:#000;transform:scaleX(1.0681)">ultrasound-based</div>
<div class="t b" style="left:1069.25px;top:9.29px;font-size:54px;color:#000;transform:scaleX(1.0817)">monitoring</div>
<div class="t b" style="left:1389.26px;top:9.29px;font-size:54px;color:#000;transform:scaleX(1.0801)">into</div>
<div class="t b" style="left:1511.84px;top:9.29px;font-size:54px;color:#000;transform:scaleX(1.0531)">preclinical</div>
<div class="t b" style="left:1807.83px;top:9.29px;font-size:54px;color:#000;transform:scaleX(1.0576)">hepatocellular</div>
<div class="t b" style="left:2217.92px;top:9.29px;font-size:54px;color:#000;transform:scaleX(1.0405)">carcinoma</div>
<div class="t b" style="left:2516.81px;top:9.29px;font-size:54px;color:#000;transform:scaleX(1.0630)">research:</div>
<div class="t b" style="left:712.5px;top:94.29px;font-size:54px;color:#000;transform:scaleX(1.0859)">Validation,</div>
<div class="t b" style="left:1021.82px;top:94.29px;font-size:54px;color:#000;transform:scaleX(1.0597)">protocol</div>
<div class="t b" style="left:1263.83px;top:94.29px;font-size:54px;color:#000;transform:scaleX(1.0870)">optimization,</div>
<div class="t b" style="left:1642.98px;top:94.29px;font-size:54px;color:#000;transform:scaleX(1.0161)">and</div>
<div class="t b" style="left:1758.87px;top:94.29px;font-size:54px;color:#000;transform:scaleX(1.0666)">experimental</div>
<div class="t b" style="left:2139.15px;top:94.29px;font-size:54px;color:#000;transform:scaleX(1.1173)">utility</div>
<div class="t b" style="left:95.27px;top:264.29px;font-size:54px;color:#FF5A1F;transform:scaleX(1.0772)">Monitoring</div>
<div class="t b" style="left:410.8px;top:264.29px;font-size:54px;color:#FF5A1F;transform:scaleX(1.0665)">preclinical</div>
<div class="t b" style="left:707.01px;top:264.29px;font-size:54px;color:#FF5A1F;transform:scaleX(0.9956)">HCC</div>
<div class="t" style="left:75.83px;top:394.37px;font-size:48px;color:#000;transform:scaleX(1.0566)">N1S1 cell implantation in rat liver to</div>
<div class="t" style="left:110.8px;top:454.37px;font-size:48px;color:#000;transform:scaleX(1.0670)">induce orthotopic hepatocellular</div>
<div class="t" style="left:353.87px;top:514.37px;font-size:48px;color:#000;transform:scaleX(1.0650)">carcinoma</div>
<div class="t" style="left:340px;top:1060.37px;font-size:48px;color:#000;transform:scaleX(1.0265)">Weekly non invasive</div>
<div class="t" style="left:314.25px;top:1120.37px;font-size:48px;color:#000;transform:scaleX(1.0834)">monitoring for tumour</div>
<div class="t" style="left:387.85px;top:1179.37px;font-size:48px;color:#000;transform:scaleX(1.0755)">growth tracking</div>
<div class="t" style="left:67.95px;top:1711.37px;font-size:48px;color:#000;transform:scaleX(1.0522)">Tumour nodule</div>
<div class="t" style="left:156.47px;top:1770.37px;font-size:48px;color:#000;transform:scaleX(1.0139)">(Day 7)</div>
<div class="t b" style="left:1221px;top:264.29px;font-size:54px;color:#8E1F1F;transform:scaleX(1.0740)">Validations</div>
<div class="t b" style="left:1541.44px;top:264.29px;font-size:54px;color:#8E1F1F;transform:scaleX(1.0596)">and</div>
<div class="t b" style="left:1657.71px;top:264.29px;font-size:54px;color:#8E1F1F;transform:scaleX(1.0963)">limitations</div>
<div class="t" style="left:1420.85px;top:391.75px;font-size:57px;color:#000;transform:scaleX(1.0374)">Ultrasound</div>
<div class="t" style="left:1115.9px;top:461.75px;font-size:57px;color:#1E8C0F;transform:scaleX(1.0240)">Real-time, low cost, radiation-free;</div>
<div class="t" style="left:1179.47px;top:531.75px;font-size:57px;color:#F4561E;transform:scaleX(1.0148)">Operator-dependent accuracy</div>
<div class="t" style="left:1439.79px;top:1172.75px;font-size:57px;color:#000;transform:scaleX(1.0033)">r &gt; 0.99</div>
<div class="t" style="left:989.45px;top:1599.37px;font-size:48px;color:#000;transform:scaleX(1.0177)">Micro CT  scanner</div>
<div class="t" style="left:981.86px;top:1659.37px;font-size:48px;color:#1E8C0F;transform:scaleX(1.0462)">High-resolution 3D</div>
<div class="t" style="left:1025.23px;top:1718.37px;font-size:48px;color:#1E8C0F;transform:scaleX(1.0903)">reconstruction</div>
<div class="t" style="left:1753.29px;top:1599.37px;font-size:48px;color:#000;transform:scaleX(1.0714)">Histopathology</div>
<div class="t" style="left:1766.4px;top:1659.37px;font-size:48px;color:#1E8C0F;transform:scaleX(1.0494)">Gold standard</div>
<div class="t" style="left:1817.5px;top:1718.37px;font-size:48px;color:#1E8C0F;transform:scaleX(1.0619)">validation</div>
<div class="t b" style="left:2308.28px;top:254.29px;font-size:54px;color:#0A958C;transform:scaleX(1.0408)">Protocol</div>
<div class="t b" style="left:2551.12px;top:254.29px;font-size:54px;color:#0A958C;transform:scaleX(1.0924)">optimization</div>
<div class="t b" style="left:2273.95px;top:318.89px;font-size:54px;color:#0A958C;transform:scaleX(1.0476)">and</div>
<div class="t b" style="left:2391.02px;top:318.89px;font-size:54px;color:#0A958C;transform:scaleX(1.0895)">experimental</div>
<div class="t b" style="left:2769px;top:318.89px;font-size:54px;color:#0A958C;transform:scaleX(1.1322)">utility</div>
<div class="t" style="left:2539.71px;top:465.07px;font-size:48px;color:#000;transform:scaleX(1.0467)">Operator training</div>
<div class="t" style="left:2588.48px;top:525.67px;font-size:48px;color:#000;transform:scaleX(1.0614)">and imaging</div>
<div class="t" style="left:2567.78px;top:585.67px;font-size:48px;color:#000;transform:scaleX(1.0722)">reproducibility</div>
<div class="t" style="left:2547.1px;top:740.77px;font-size:48px;color:#000;transform:scaleX(1.0514)">Cross-validation</div>
<div class="t" style="left:2552.73px;top:800.77px;font-size:48px;color:#000;transform:scaleX(1.0288)">with micro-CT &amp;</div>
<div class="t" style="left:2559.98px;top:860.77px;font-size:48px;color:#000;transform:scaleX(1.0729)">histopathology</div>
<div class="t" style="left:2571.36px;top:1024.57px;font-size:48px;color:#000;transform:scaleX(1.0686)">Cost-effective</div>
<div class="t" style="left:2524.27px;top:1084.37px;font-size:48px;color:#000;transform:scaleX(1.0752)">imaging for small-</div>
<div class="t" style="left:2551.13px;top:1144.37px;font-size:48px;color:#000;transform:scaleX(1.0845)">animal facilities</div>
<div class="t" style="left:2604.63px;top:1307.57px;font-size:48px;color:#000;transform:scaleX(1.0374)">Supports 3R</div>
<div class="t" style="left:2634.6px;top:1366.57px;font-size:48px;color:#000;transform:scaleX(1.0681)">principles</div>
<div class="t" style="left:2613.3px;top:1550.07px;font-size:48px;color:#000;transform:scaleX(1.0558)">Adaptable to</div>
<div class="t" style="left:2600.5px;top:1609.67px;font-size:48px;color:#000;transform:scaleX(1.0552)">various small-</div>
<div class="t" style="left:2605.56px;top:1670.37px;font-size:48px;color:#000;transform:scaleX(1.0721)">animal tumor</div>
<div class="t" style="left:2670.67px;top:1730.37px;font-size:48px;color:#000;transform:scaleX(1.0767)">models</div>
</body></html>
